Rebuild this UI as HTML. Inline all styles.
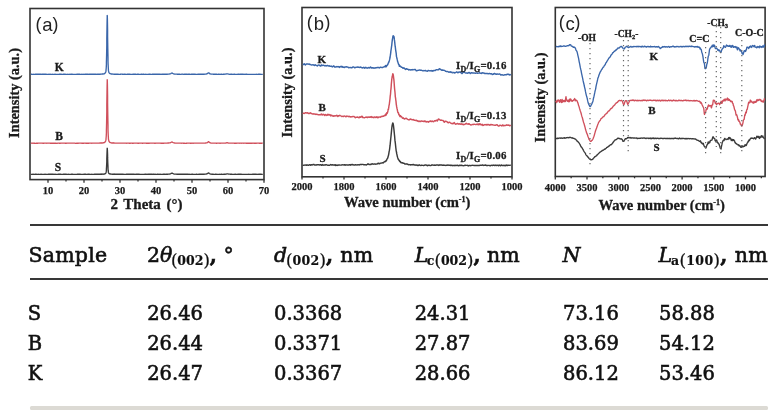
<!DOCTYPE html>
<html><head><meta charset="utf-8">
<style>
html,body{margin:0;padding:0;background:#fff;}
body{width:780px;height:416px;position:relative;overflow:hidden;}
svg{position:absolute;left:0;top:0;}
.tl text{font-family:"Liberation Serif",serif;font-weight:bold;font-size:10.5px;fill:#1a1a1a;stroke:#1a1a1a;stroke-width:0.25px;}
.lab{font-family:"Liberation Serif",serif;font-weight:bold;fill:#1a1a1a;stroke:#1a1a1a;stroke-width:0.3px;}
.pl{font-family:"Liberation Sans",sans-serif;fill:#222;}
.tb{position:absolute;font-family:"DejaVu Serif",serif;font-size:19.5px;color:#111;-webkit-text-stroke:0.6px #111;white-space:nowrap;line-height:1;}
.th{font-size:20.5px;}
b{font-weight:bold;}
.pp{font-size:16.5px;font-weight:normal;-webkit-text-stroke:0.3px #111;position:relative;top:1px;}
i+sub{margin-left:-1.5px;}
.rule{position:absolute;left:29.6px;width:738px;height:2px;background:#383838;}
sub{font-size:12.5px;font-weight:bold;vertical-align:-3px;font-style:normal;line-height:0;-webkit-text-stroke:0.2px #111;}
</style></head><body>
<svg width="780" height="216" viewBox="0 0 780 216">
<rect x="30" y="8.5" width="234" height="171.1" fill="none" stroke="#333" stroke-width="1.6"/>
<polyline points="30.8,74.26 31.3,74.24 31.8,74.27 32.3,74.31 32.8,74.32 33.3,74.30 33.8,74.28 34.3,74.30 34.8,74.32 35.3,74.29 35.8,74.28 36.3,74.29 36.8,74.28 37.3,74.27 37.8,74.21 38.3,74.21 38.8,74.18 39.3,74.22 39.8,74.22 40.3,74.27 40.8,74.28 41.3,74.30 41.8,74.24 42.3,74.22 42.8,74.23 43.3,74.29 43.8,74.26 44.3,74.25 44.8,74.23 45.3,74.25 45.8,74.28 46.3,74.29 46.8,74.30 47.3,74.30 47.8,74.30 48.3,74.30 48.8,74.28 49.3,74.30 49.8,74.27 50.3,74.27 50.8,74.30 51.3,74.30 51.8,74.31 52.3,74.28 52.8,74.31 53.3,74.33 53.8,74.35 54.3,74.33 54.8,74.29 55.3,74.28 55.8,74.31 56.3,74.32 56.8,74.31 57.3,74.33 57.8,74.34 58.3,74.33 58.8,74.32 59.3,74.28 59.8,74.29 60.3,74.26 60.8,74.26 61.3,74.25 61.8,74.30 62.3,74.34 62.8,74.31 63.3,74.27 63.8,74.26 64.3,74.25 64.8,74.25 65.3,74.24 65.8,74.31 66.3,74.34 66.8,74.33 67.3,74.30 67.8,74.27 68.3,74.32 68.8,74.32 69.3,74.31 69.8,74.29 70.3,74.29 70.8,74.30 71.3,74.26 71.8,74.26 72.3,74.26 72.8,74.31 73.3,74.33 73.8,74.34 74.3,74.32 74.8,74.30 75.3,74.33 75.8,74.31 76.3,74.33 76.8,74.28 77.3,74.28 77.8,74.23 78.3,74.21 78.8,74.20 79.3,74.22 79.8,74.27 80.3,74.33 80.8,74.33 81.3,74.31 81.8,74.26 82.3,74.29 82.8,74.30 83.3,74.29 83.8,74.30 84.3,74.31 84.8,74.29 85.3,74.27 85.8,74.26 86.3,74.26 86.8,74.27 87.3,74.25 87.8,74.29 88.3,74.29 88.8,74.31 89.3,74.27 89.8,74.27 90.3,74.22 90.8,74.20 91.3,74.21 91.8,74.21 92.3,74.25 92.8,74.20 93.3,74.27 93.8,74.22 94.3,74.28 94.8,74.26 95.3,74.24 95.8,74.25 96.3,74.28 96.8,74.31 97.3,74.27 97.8,74.22 98.3,74.19 98.8,74.22 99.3,74.20 99.8,74.21 100.2,74.15 100.3,74.15 100.3,74.12 100.4,74.16 100.4,74.17 100.5,74.22 100.6,74.19 100.7,74.17 100.8,74.14 100.8,74.12 100.8,74.14 100.9,74.13 101.0,74.14 101.1,74.10 101.2,74.09 101.2,74.13 101.3,74.14 101.3,74.13 101.4,74.10 101.5,74.14 101.6,74.13 101.6,74.11 101.7,74.06 101.8,74.04 101.8,74.07 101.9,74.08 102.0,74.11 102.0,74.07 102.1,74.08 102.2,74.05 102.3,74.06 102.3,74.02 102.4,74.00 102.4,74.03 102.5,74.03 102.6,74.06 102.7,74.02 102.8,74.01 102.8,73.99 102.8,74.00 102.9,73.99 103.0,73.99 103.1,73.96 103.2,73.98 103.2,73.99 103.3,73.99 103.3,73.94 103.4,73.88 103.5,73.87 103.6,73.89 103.6,73.90 103.7,73.87 103.8,73.85 103.8,73.87 103.9,73.86 104.0,73.80 104.0,73.80 104.1,73.72 104.2,73.72 104.3,73.66 104.3,73.70 104.4,73.70 104.4,73.68 104.5,73.60 104.6,73.47 104.7,73.40 104.8,73.35 104.8,73.36 104.8,73.33 104.9,73.26 105.0,73.14 105.1,73.04 105.2,73.00 105.2,72.94 105.3,72.86 105.3,72.81 105.4,72.65 105.5,72.51 105.6,72.34 105.6,72.15 105.7,71.94 105.8,71.67 105.8,71.72 105.9,71.33 106.0,70.85 106.0,70.19 106.1,69.37 106.2,68.27 106.3,66.77 106.3,66.36 106.4,64.83 106.4,62.34 106.5,59.08 106.6,55.14 106.7,50.39 106.8,45.03 106.8,42.05 106.8,39.01 106.9,32.77 107.0,26.64 107.1,21.19 107.2,17.16 107.2,15.37 107.3,15.72 107.3,16.12 107.4,19.28 107.5,24.22 107.6,30.16 107.6,36.44 107.7,42.63 107.8,48.34 107.8,48.33 107.9,53.26 108.0,57.54 108.0,61.08 108.1,63.92 108.2,66.08 108.3,67.76 108.3,68.13 108.4,69.05 108.4,69.99 108.5,70.64 108.6,71.16 108.7,71.54 108.8,71.90 108.8,71.99 108.8,72.12 108.9,72.30 109.0,72.47 109.1,72.66 109.2,72.83 109.2,72.96 109.3,73.02 109.3,73.02 109.4,73.06 109.5,73.13 109.6,73.19 109.6,73.32 109.7,73.35 109.8,73.40 109.8,73.39 109.9,73.50 110.0,73.56 110.0,73.61 110.1,73.65 110.2,73.67 110.3,73.69 110.3,73.62 110.4,73.69 110.4,73.75 110.5,73.84 110.6,73.85 110.7,73.85 110.8,73.86 110.8,73.85 110.8,73.85 110.9,73.86 111.0,73.92 111.1,73.96 111.2,73.97 111.2,73.94 111.3,73.92 111.3,73.96 111.4,74.00 111.5,74.03 111.6,73.99 111.6,73.97 111.7,73.98 111.8,74.01 111.8,74.03 111.9,74.04 112.0,74.02 112.0,74.04 112.1,74.02 112.2,74.02 112.3,74.01 112.3,74.07 112.4,74.06 112.4,74.10 112.5,74.12 112.6,74.14 112.7,74.12 112.8,74.09 112.8,74.10 112.8,74.10 112.9,74.11 113.0,74.16 113.1,74.18 113.2,74.17 113.2,74.10 113.3,74.12 113.3,74.10 113.4,74.10 113.5,74.12 113.6,74.14 113.6,74.19 113.7,74.20 113.8,74.23 113.8,74.22 113.9,74.23 114.0,74.22 114.0,74.20 114.1,74.13 114.2,74.13 114.3,74.19 114.3,74.24 114.4,74.22 114.4,74.17 114.5,74.14 114.6,74.17 114.8,74.19 115.3,74.22 115.8,74.23 116.3,74.23 116.8,74.23 117.3,74.24 117.8,74.25 118.3,74.27 118.8,74.31 119.3,74.33 119.8,74.32 120.3,74.24 120.8,74.24 121.3,74.19 121.8,74.20 122.3,74.21 122.8,74.28 123.3,74.31 123.8,74.25 124.3,74.23 124.8,74.22 125.3,74.27 125.8,74.33 126.3,74.36 126.8,74.32 127.3,74.24 127.8,74.24 128.3,74.25 128.8,74.25 129.3,74.26 129.8,74.24 130.3,74.29 130.8,74.31 131.3,74.36 131.8,74.33 132.3,74.32 132.8,74.29 133.3,74.29 133.8,74.27 134.3,74.24 134.8,74.22 135.3,74.25 135.8,74.27 136.3,74.31 136.8,74.32 137.3,74.28 137.8,74.26 138.3,74.24 138.8,74.29 139.3,74.30 139.8,74.32 140.3,74.31 140.8,74.29 141.3,74.25 141.8,74.26 142.3,74.30 142.8,74.28 143.3,74.29 143.8,74.29 144.3,74.37 144.8,74.33 145.3,74.31 145.8,74.25 146.3,74.32 146.8,74.32 147.3,74.38 147.8,74.31 148.3,74.32 148.8,74.24 149.3,74.25 149.8,74.27 150.3,74.28 150.8,74.31 151.3,74.30 151.8,74.30 152.3,74.26 152.8,74.24 153.3,74.27 153.8,74.27 154.3,74.26 154.8,74.25 155.3,74.24 155.8,74.23 156.3,74.23 156.8,74.28 157.3,74.27 157.8,74.27 158.3,74.24 158.8,74.25 159.3,74.27 159.8,74.27 160.3,74.33 160.8,74.29 161.3,74.31 161.8,74.26 162.3,74.26 162.8,74.27 163.3,74.26 163.8,74.29 164.3,74.27 164.8,74.25 165.3,74.23 165.8,74.22 166.3,74.26 166.8,74.23 167.3,74.21 167.8,74.13 168.3,74.14 168.8,74.07 169.3,74.01 169.8,73.90 170.3,73.80 170.8,73.57 171.3,73.25 171.8,73.02 172.3,73.17 172.8,73.50 173.3,73.75 173.8,73.92 174.3,74.03 174.8,74.09 175.3,74.16 175.8,74.16 176.3,74.17 176.8,74.13 177.3,74.21 177.8,74.24 178.3,74.29 178.8,74.26 179.3,74.27 179.8,74.27 180.3,74.32 180.8,74.30 181.3,74.26 181.8,74.19 182.3,74.19 182.8,74.24 183.3,74.29 183.8,74.30 184.3,74.25 184.8,74.22 185.3,74.28 185.8,74.24 186.3,74.27 186.8,74.21 187.3,74.30 187.8,74.26 188.3,74.28 188.8,74.22 189.3,74.22 189.8,74.26 190.3,74.32 190.8,74.33 191.3,74.28 191.8,74.22 192.3,74.22 192.8,74.24 193.3,74.28 193.8,74.28 194.3,74.26 194.8,74.26 195.3,74.26 195.8,74.32 196.3,74.36 196.8,74.36 197.3,74.31 197.8,74.26 198.3,74.25 198.8,74.25 199.3,74.25 199.8,74.24 200.3,74.27 200.8,74.26 201.3,74.29 201.8,74.27 202.3,74.25 202.8,74.22 203.3,74.21 203.8,74.20 204.3,74.22 204.8,74.20 205.3,74.16 205.8,74.12 206.3,74.02 206.8,73.93 207.3,73.72 207.8,73.32 208.3,72.80 208.8,72.80 209.3,73.37 209.8,73.75 210.3,73.94 210.8,74.04 211.3,74.11 211.8,74.14 212.3,74.19 212.8,74.19 213.3,74.22 213.8,74.23 214.3,74.26 214.8,74.25 215.3,74.27 215.8,74.23 216.3,74.26 216.8,74.25 217.3,74.30 217.8,74.30 218.3,74.28 218.8,74.27 219.3,74.27 219.8,74.30 220.3,74.31 220.8,74.26 221.3,74.26 221.8,74.28 222.3,74.33 222.8,74.32 223.3,74.25 223.8,74.24 224.3,74.22 224.8,74.18 225.3,74.13 225.8,74.04 226.3,73.98 226.8,73.81 227.3,73.80 227.8,73.91 228.3,74.07 228.8,74.17 229.3,74.27 229.8,74.30 230.3,74.27 230.8,74.22 231.3,74.21 231.8,74.24 232.3,74.28 232.8,74.30 233.3,74.32 233.8,74.29 234.3,74.29 234.8,74.29 235.3,74.32 235.8,74.35 236.3,74.34 236.8,74.32 237.3,74.30 237.8,74.27 238.3,74.24 238.8,74.25 239.3,74.27 239.8,74.31 240.3,74.26 240.8,74.25 241.3,74.23 241.8,74.25 242.3,74.21 242.8,74.22 243.3,74.26 243.8,74.32 244.3,74.31 244.8,74.29 245.3,74.30 245.8,74.25 246.3,74.25 246.8,74.24 247.3,74.32 247.8,74.37 248.3,74.38 248.8,74.37 249.3,74.34 249.8,74.33 250.3,74.31 250.8,74.30 251.3,74.31 251.8,74.36 252.3,74.36 252.8,74.34 253.3,74.30 253.8,74.33 254.3,74.33 254.8,74.36 255.3,74.31 255.8,74.31 256.3,74.27 256.8,74.31 257.3,74.34 257.8,74.31 258.3,74.27 258.8,74.25 259.3,74.27 259.8,74.26 260.3,74.27 260.8,74.30 261.3,74.35 261.8,74.31 262.3,74.32 262.8,74.31" fill="none" stroke="#3a66aa" stroke-width="1.35" stroke-linejoin="round"/>
<polyline points="30.8,143.20 31.3,143.20 31.8,143.18 32.3,143.17 32.8,143.21 33.3,143.20 33.8,143.20 34.3,143.20 34.8,143.27 35.3,143.33 35.8,143.30 36.3,143.25 36.8,143.24 37.3,143.24 37.8,143.21 38.3,143.18 38.8,143.19 39.3,143.19 39.8,143.15 40.3,143.11 40.8,143.14 41.3,143.16 41.8,143.19 42.3,143.18 42.8,143.21 43.3,143.21 43.8,143.22 44.3,143.18 44.8,143.18 45.3,143.15 45.8,143.19 46.3,143.20 46.8,143.21 47.3,143.17 47.8,143.17 48.3,143.20 48.8,143.17 49.3,143.15 49.8,143.13 50.3,143.22 50.8,143.27 51.3,143.28 51.8,143.23 52.3,143.26 52.8,143.26 53.3,143.23 53.8,143.21 54.3,143.23 54.8,143.25 55.3,143.21 55.8,143.25 56.3,143.27 56.8,143.30 57.3,143.27 57.8,143.18 58.3,143.18 58.8,143.16 59.3,143.22 59.8,143.22 60.3,143.22 60.8,143.17 61.3,143.16 61.8,143.15 62.3,143.18 62.8,143.16 63.3,143.17 63.8,143.12 64.3,143.16 64.8,143.18 65.3,143.26 65.8,143.27 66.3,143.27 66.8,143.20 67.3,143.13 67.8,143.10 68.3,143.13 68.8,143.16 69.3,143.14 69.8,143.16 70.3,143.12 70.8,143.17 71.3,143.16 71.8,143.19 72.3,143.18 72.8,143.17 73.3,143.17 73.8,143.13 74.3,143.14 74.8,143.20 75.3,143.28 75.8,143.31 76.3,143.29 76.8,143.22 77.3,143.23 77.8,143.21 78.3,143.22 78.8,143.18 79.3,143.19 79.8,143.18 80.3,143.18 80.8,143.15 81.3,143.15 81.8,143.21 82.3,143.23 82.8,143.24 83.3,143.19 83.8,143.21 84.3,143.19 84.8,143.17 85.3,143.18 85.8,143.21 86.3,143.22 86.8,143.23 87.3,143.21 87.8,143.21 88.3,143.16 88.8,143.21 89.3,143.16 89.8,143.15 90.3,143.10 90.8,143.16 91.3,143.19 91.8,143.24 92.3,143.18 92.8,143.18 93.3,143.14 93.8,143.16 94.3,143.15 94.8,143.13 95.3,143.10 95.8,143.07 96.3,143.06 96.8,143.08 97.3,143.10 97.8,143.13 98.3,143.17 98.8,143.15 99.3,143.10 99.8,143.03 100.2,143.00 100.3,143.00 100.3,143.03 100.4,143.04 100.4,143.01 100.5,143.02 100.6,143.03 100.7,143.08 100.8,143.06 100.8,143.08 100.8,143.07 100.9,143.09 101.0,143.08 101.1,143.08 101.2,143.06 101.2,143.01 101.3,143.00 101.3,142.98 101.4,143.01 101.5,142.98 101.6,143.02 101.6,143.01 101.7,143.01 101.8,142.93 101.8,142.92 101.9,142.94 102.0,142.95 102.0,142.95 102.1,142.93 102.2,142.96 102.3,142.93 102.3,142.94 102.4,142.95 102.4,143.01 102.5,142.98 102.6,142.94 102.7,142.85 102.8,142.88 102.8,142.86 102.8,142.86 102.9,142.83 103.0,142.82 103.1,142.80 103.2,142.77 103.2,142.73 103.3,142.71 103.3,142.71 103.4,142.74 103.5,142.76 103.6,142.71 103.6,142.67 103.7,142.67 103.8,142.71 103.8,142.71 103.9,142.65 104.0,142.63 104.0,142.59 104.1,142.55 104.2,142.49 104.3,142.50 104.3,142.52 104.4,142.54 104.4,142.45 104.5,142.42 104.6,142.34 104.7,142.29 104.8,142.27 104.8,142.27 104.8,142.23 104.9,142.10 105.0,142.01 105.1,141.97 105.2,141.87 105.2,141.71 105.3,141.59 105.3,141.57 105.4,141.48 105.5,141.37 105.6,141.20 105.6,141.01 105.7,140.71 105.8,140.42 105.8,140.45 105.9,140.10 106.0,139.59 106.0,138.88 106.1,138.00 106.2,136.77 106.3,135.15 106.3,134.64 106.4,133.04 106.4,130.28 106.5,126.80 106.6,122.53 106.7,117.48 106.8,111.67 106.8,108.51 106.8,105.24 106.9,98.53 107.0,91.90 107.1,86.01 107.2,81.69 107.2,79.74 107.3,80.13 107.3,80.56 107.4,84.06 107.5,89.47 107.6,95.97 107.6,102.69 107.7,109.23 107.8,115.26 107.8,115.26 107.9,120.65 108.0,125.19 108.0,128.99 108.1,131.98 108.2,134.41 108.3,136.19 108.3,136.56 108.4,137.51 108.4,138.53 108.5,139.30 108.6,139.86 108.7,140.26 108.8,140.54 108.8,140.70 108.8,140.85 108.9,141.12 109.0,141.29 109.1,141.46 109.2,141.58 109.2,141.69 109.3,141.74 109.3,141.81 109.4,141.89 109.5,142.01 109.6,142.05 109.6,142.13 109.7,142.19 109.8,142.27 109.8,142.26 109.9,142.28 110.0,142.35 110.0,142.46 110.1,142.50 110.2,142.52 110.3,142.55 110.3,142.55 110.4,142.57 110.4,142.59 110.5,142.62 110.6,142.63 110.7,142.65 110.8,142.69 110.8,142.70 110.8,142.70 110.9,142.74 111.0,142.78 111.1,142.83 111.2,142.85 111.2,142.87 111.3,142.92 111.3,142.87 111.4,142.89 111.5,142.84 111.6,142.92 111.6,142.95 111.7,142.93 111.8,142.87 111.8,142.85 111.9,142.92 112.0,142.97 112.0,142.96 112.1,142.96 112.2,142.97 112.3,142.98 112.3,142.99 112.4,142.93 112.4,142.95 112.5,142.91 112.6,142.99 112.7,142.98 112.8,142.99 112.8,142.98 112.8,142.97 112.9,142.97 113.0,142.93 113.1,142.96 113.2,143.00 113.2,143.06 113.3,143.06 113.3,143.08 113.4,143.06 113.5,143.06 113.6,143.05 113.6,143.08 113.7,143.08 113.8,143.06 113.8,143.04 113.9,143.05 114.0,143.04 114.0,143.07 114.1,143.06 114.2,143.10 114.3,143.06 114.3,143.07 114.4,143.07 114.4,143.09 114.5,143.13 114.6,143.13 114.8,143.19 115.3,143.18 115.8,143.16 116.3,143.12 116.8,143.12 117.3,143.14 117.8,143.16 118.3,143.14 118.8,143.10 119.3,143.10 119.8,143.06 120.3,143.11 120.8,143.10 121.3,143.14 121.8,143.13 122.3,143.16 122.8,143.14 123.3,143.11 123.8,143.08 124.3,143.06 124.8,143.08 125.3,143.15 125.8,143.17 126.3,143.21 126.8,143.14 127.3,143.17 127.8,143.15 128.3,143.18 128.8,143.19 129.3,143.24 129.8,143.25 130.3,143.24 130.8,143.17 131.3,143.18 131.8,143.17 132.3,143.22 132.8,143.20 133.3,143.25 133.8,143.18 134.3,143.18 134.8,143.16 135.3,143.20 135.8,143.18 136.3,143.16 136.8,143.13 137.3,143.16 137.8,143.22 138.3,143.28 138.8,143.25 139.3,143.17 139.8,143.14 140.3,143.19 140.8,143.19 141.3,143.18 141.8,143.18 142.3,143.22 142.8,143.22 143.3,143.18 143.8,143.12 144.3,143.11 144.8,143.09 145.3,143.14 145.8,143.14 146.3,143.21 146.8,143.23 147.3,143.27 147.8,143.24 148.3,143.21 148.8,143.21 149.3,143.22 149.8,143.18 150.3,143.15 150.8,143.13 151.3,143.19 151.8,143.13 152.3,143.14 152.8,143.10 153.3,143.15 153.8,143.18 154.3,143.20 154.8,143.20 155.3,143.22 155.8,143.16 156.3,143.17 156.8,143.12 157.3,143.17 157.8,143.18 158.3,143.17 158.8,143.15 159.3,143.17 159.8,143.20 160.3,143.19 160.8,143.22 161.3,143.27 161.8,143.25 162.3,143.20 162.8,143.21 163.3,143.26 163.8,143.25 164.3,143.18 164.8,143.15 165.3,143.13 165.8,143.12 166.3,143.14 166.8,143.12 167.3,143.11 167.8,143.04 168.3,143.02 168.8,142.97 169.3,142.93 169.8,142.87 170.3,142.74 170.8,142.53 171.3,142.21 171.8,142.02 172.3,142.15 172.8,142.43 173.3,142.69 173.8,142.83 174.3,142.97 174.8,143.02 175.3,143.07 175.8,143.06 176.3,143.06 176.8,143.10 177.3,143.11 177.8,143.16 178.3,143.14 178.8,143.11 179.3,143.08 179.8,143.05 180.3,143.11 180.8,143.15 181.3,143.21 181.8,143.19 182.3,143.15 182.8,143.17 183.3,143.21 183.8,143.23 184.3,143.22 184.8,143.27 185.3,143.30 185.8,143.28 186.3,143.23 186.8,143.21 187.3,143.20 187.8,143.16 188.3,143.15 188.8,143.14 189.3,143.17 189.8,143.17 190.3,143.24 190.8,143.23 191.3,143.22 191.8,143.16 192.3,143.19 192.8,143.22 193.3,143.21 193.8,143.18 194.3,143.12 194.8,143.11 195.3,143.14 195.8,143.18 196.3,143.18 196.8,143.16 197.3,143.15 197.8,143.19 198.3,143.18 198.8,143.17 199.3,143.12 199.8,143.10 200.3,143.15 200.8,143.14 201.3,143.15 201.8,143.12 202.3,143.15 202.8,143.14 203.3,143.12 203.8,143.12 204.3,143.13 204.8,143.07 205.3,143.04 205.8,142.98 206.3,142.95 206.8,142.85 207.3,142.68 207.8,142.33 208.3,141.78 208.8,141.77 209.3,142.30 209.8,142.73 210.3,142.95 210.8,143.03 211.3,143.07 211.8,143.10 212.3,143.09 212.8,143.12 213.3,143.10 213.8,143.13 214.3,143.10 214.8,143.09 215.3,143.11 215.8,143.17 216.3,143.22 216.8,143.22 217.3,143.19 217.8,143.15 218.3,143.16 218.8,143.16 219.3,143.20 219.8,143.23 220.3,143.23 220.8,143.18 221.3,143.12 221.8,143.08 222.3,143.09 222.8,143.13 223.3,143.17 223.8,143.15 224.3,143.12 224.8,143.13 225.3,143.12 225.8,143.03 226.3,142.90 226.8,142.78 227.3,142.73 227.8,142.86 228.3,143.01 228.8,143.12 229.3,143.18 229.8,143.20 230.3,143.15 230.8,143.13 231.3,143.13 231.8,143.17 232.3,143.20 232.8,143.18 233.3,143.17 233.8,143.19 234.3,143.21 234.8,143.24 235.3,143.23 235.8,143.24 236.3,143.25 236.8,143.17 237.3,143.13 237.8,143.11 238.3,143.14 238.8,143.16 239.3,143.20 239.8,143.22 240.3,143.18 240.8,143.20 241.3,143.21 241.8,143.20 242.3,143.16 242.8,143.18 243.3,143.20 243.8,143.21 244.3,143.19 244.8,143.18 245.3,143.17 245.8,143.20 246.3,143.20 246.8,143.21 247.3,143.19 247.8,143.27 248.3,143.24 248.8,143.28 249.3,143.21 249.8,143.23 250.3,143.21 250.8,143.23 251.3,143.26 251.8,143.26 252.3,143.22 252.8,143.18 253.3,143.18 253.8,143.21 254.3,143.26 254.8,143.25 255.3,143.27 255.8,143.27 256.3,143.26 256.8,143.20 257.3,143.14 257.8,143.10 258.3,143.17 258.8,143.18 259.3,143.24 259.8,143.22 260.3,143.28 260.8,143.28 261.3,143.26 261.8,143.21 262.3,143.19 262.8,143.20" fill="none" stroke="#d0505c" stroke-width="1.35" stroke-linejoin="round"/>
<polyline points="30.8,174.29 31.3,174.30 31.8,174.32 32.3,174.34 32.8,174.28 33.3,174.31 33.8,174.27 34.3,174.33 34.8,174.30 35.3,174.26 35.8,174.23 36.3,174.23 36.8,174.32 37.3,174.35 37.8,174.35 38.3,174.28 38.8,174.31 39.3,174.34 39.8,174.38 40.3,174.34 40.8,174.26 41.3,174.28 41.8,174.35 42.3,174.40 42.8,174.41 43.3,174.36 43.8,174.32 44.3,174.32 44.8,174.28 45.3,174.30 45.8,174.27 46.3,174.32 46.8,174.34 47.3,174.34 47.8,174.30 48.3,174.26 48.8,174.25 49.3,174.25 49.8,174.25 50.3,174.22 50.8,174.23 51.3,174.21 51.8,174.21 52.3,174.19 52.8,174.23 53.3,174.27 53.8,174.36 54.3,174.32 54.8,174.29 55.3,174.27 55.8,174.30 56.3,174.31 56.8,174.33 57.3,174.32 57.8,174.30 58.3,174.23 58.8,174.25 59.3,174.28 59.8,174.28 60.3,174.25 60.8,174.26 61.3,174.30 61.8,174.31 62.3,174.31 62.8,174.31 63.3,174.28 63.8,174.26 64.3,174.26 64.8,174.29 65.3,174.24 65.8,174.23 66.3,174.26 66.8,174.35 67.3,174.30 67.8,174.34 68.3,174.28 68.8,174.36 69.3,174.32 69.8,174.37 70.3,174.35 70.8,174.30 71.3,174.29 71.8,174.27 72.3,174.24 72.8,174.29 73.3,174.32 73.8,174.42 74.3,174.34 74.8,174.35 75.3,174.35 75.8,174.40 76.3,174.37 76.8,174.30 77.3,174.26 77.8,174.21 78.3,174.20 78.8,174.21 79.3,174.24 79.8,174.27 80.3,174.27 80.8,174.33 81.3,174.37 81.8,174.37 82.3,174.35 82.8,174.30 83.3,174.30 83.8,174.29 84.3,174.28 84.8,174.28 85.3,174.23 85.8,174.26 86.3,174.30 86.8,174.32 87.3,174.32 87.8,174.26 88.3,174.25 88.8,174.22 89.3,174.27 89.8,174.35 90.3,174.39 90.8,174.34 91.3,174.30 91.8,174.28 92.3,174.32 92.8,174.31 93.3,174.32 93.8,174.31 94.3,174.29 94.8,174.27 95.3,174.22 95.8,174.22 96.3,174.19 96.8,174.23 97.3,174.21 97.8,174.25 98.3,174.26 98.8,174.24 99.3,174.22 99.8,174.18 100.2,174.22 100.3,174.28 100.3,174.32 100.4,174.30 100.4,174.29 100.5,174.23 100.6,174.28 100.7,174.22 100.8,174.19 100.8,174.22 100.8,174.27 100.9,174.31 101.0,174.25 101.1,174.21 101.2,174.23 101.2,174.19 101.3,174.18 101.3,174.19 101.4,174.23 101.5,174.27 101.6,174.26 101.6,174.30 101.7,174.26 101.8,174.26 101.8,174.16 101.9,174.14 102.0,174.17 102.0,174.19 102.1,174.22 102.2,174.19 102.3,174.18 102.3,174.16 102.4,174.15 102.4,174.16 102.5,174.18 102.6,174.20 102.7,174.20 102.8,174.15 102.8,174.14 102.8,174.15 102.9,174.19 103.0,174.24 103.1,174.26 103.2,174.23 103.2,174.16 103.3,174.11 103.3,174.09 103.4,174.07 103.5,174.07 103.6,174.07 103.6,174.10 103.7,174.10 103.8,174.09 103.8,174.05 103.9,174.08 104.0,174.09 104.0,174.15 104.1,174.12 104.2,174.13 104.3,174.06 104.3,174.06 104.4,174.08 104.4,174.04 104.5,174.03 104.6,173.99 104.7,174.00 104.8,173.97 104.8,173.95 104.8,173.91 104.9,173.87 105.0,173.79 105.1,173.75 105.2,173.69 105.2,173.67 105.3,173.65 105.3,173.66 105.4,173.58 105.5,173.56 105.6,173.51 105.6,173.47 105.7,173.32 105.8,173.16 105.8,173.16 105.9,173.02 106.0,172.77 106.0,172.51 106.1,172.20 106.2,171.70 106.3,171.05 106.3,170.79 106.4,170.16 106.4,169.04 106.5,167.58 106.6,165.85 106.7,163.78 106.8,161.43 106.8,160.13 106.8,158.76 106.9,155.99 107.0,153.33 107.1,150.89 107.2,149.16 107.2,148.29 107.3,148.48 107.3,148.65 107.4,150.04 107.5,152.21 107.6,154.82 107.6,157.64 107.7,160.37 107.8,162.85 107.8,162.84 107.9,165.03 108.0,166.94 108.0,168.54 108.1,169.76 108.2,170.70 108.3,171.40 108.3,171.58 108.4,172.02 108.4,172.44 108.5,172.71 108.6,172.92 108.7,173.08 108.8,173.26 108.8,173.32 108.8,173.36 108.9,173.39 109.0,173.49 109.1,173.60 109.2,173.66 109.2,173.68 109.3,173.70 109.3,173.67 109.4,173.70 109.5,173.75 109.6,173.81 109.6,173.88 109.7,173.92 109.8,173.97 109.8,173.96 109.9,174.01 110.0,174.03 110.0,174.04 110.1,174.02 110.2,174.03 110.3,174.03 110.3,174.02 110.4,174.02 110.4,174.00 110.5,174.01 110.6,174.02 110.7,174.06 110.8,174.04 110.8,174.04 110.8,174.05 110.9,174.10 111.0,174.09 111.1,174.12 111.2,174.09 111.2,174.12 111.3,174.14 111.3,174.16 111.4,174.15 111.5,174.15 111.6,174.17 111.6,174.18 111.7,174.16 111.8,174.20 111.8,174.15 111.9,174.13 112.0,174.09 112.0,174.12 112.1,174.12 112.2,174.13 112.3,174.17 112.3,174.17 112.4,174.19 112.4,174.20 112.5,174.20 112.6,174.21 112.7,174.24 112.8,174.27 112.8,174.25 112.8,174.21 112.9,174.18 113.0,174.21 113.1,174.23 113.2,174.23 113.2,174.22 113.3,174.23 113.3,174.24 113.4,174.25 113.5,174.20 113.6,174.20 113.6,174.18 113.7,174.26 113.8,174.27 113.8,174.27 113.9,174.21 114.0,174.21 114.0,174.24 114.1,174.26 114.2,174.31 114.3,174.30 114.3,174.33 114.4,174.29 114.4,174.30 114.5,174.24 114.6,174.23 114.8,174.22 115.3,174.25 115.8,174.21 116.3,174.23 116.8,174.23 117.3,174.28 117.8,174.25 118.3,174.26 118.8,174.28 119.3,174.26 119.8,174.24 120.3,174.24 120.8,174.27 121.3,174.29 121.8,174.27 122.3,174.25 122.8,174.25 123.3,174.30 123.8,174.29 124.3,174.33 124.8,174.32 125.3,174.34 125.8,174.32 126.3,174.27 126.8,174.24 127.3,174.19 127.8,174.21 128.3,174.25 128.8,174.26 129.3,174.28 129.8,174.23 130.3,174.26 130.8,174.22 131.3,174.26 131.8,174.24 132.3,174.24 132.8,174.23 133.3,174.21 133.8,174.24 134.3,174.28 134.8,174.32 135.3,174.30 135.8,174.27 136.3,174.23 136.8,174.27 137.3,174.24 137.8,174.29 138.3,174.27 138.8,174.29 139.3,174.27 139.8,174.31 140.3,174.34 140.8,174.35 141.3,174.33 141.8,174.35 142.3,174.36 142.8,174.35 143.3,174.36 143.8,174.33 144.3,174.33 144.8,174.28 145.3,174.27 145.8,174.28 146.3,174.28 146.8,174.30 147.3,174.29 147.8,174.32 148.3,174.26 148.8,174.25 149.3,174.26 149.8,174.29 150.3,174.29 150.8,174.22 151.3,174.26 151.8,174.24 152.3,174.31 152.8,174.25 153.3,174.29 153.8,174.26 154.3,174.32 154.8,174.28 155.3,174.27 155.8,174.31 156.3,174.31 156.8,174.31 157.3,174.25 157.8,174.24 158.3,174.29 158.8,174.33 159.3,174.34 159.8,174.27 160.3,174.25 160.8,174.30 161.3,174.35 161.8,174.35 162.3,174.30 162.8,174.28 163.3,174.22 163.8,174.20 164.3,174.22 164.8,174.24 165.3,174.32 165.8,174.29 166.3,174.28 166.8,174.23 167.3,174.26 167.8,174.26 168.3,174.19 168.8,174.11 169.3,174.07 169.8,174.00 170.3,173.82 170.8,173.58 171.3,173.29 171.8,173.10 172.3,173.21 172.8,173.49 173.3,173.77 173.8,173.94 174.3,174.09 174.8,174.16 175.3,174.16 175.8,174.18 176.3,174.20 176.8,174.27 177.3,174.29 177.8,174.27 178.3,174.24 178.8,174.25 179.3,174.24 179.8,174.21 180.3,174.22 180.8,174.23 181.3,174.28 181.8,174.22 182.3,174.21 182.8,174.19 183.3,174.22 183.8,174.26 184.3,174.23 184.8,174.26 185.3,174.22 185.8,174.25 186.3,174.25 186.8,174.28 187.3,174.27 187.8,174.29 188.3,174.28 188.8,174.32 189.3,174.28 189.8,174.33 190.3,174.32 190.8,174.34 191.3,174.29 191.8,174.32 192.3,174.28 192.8,174.29 193.3,174.31 193.8,174.33 194.3,174.34 194.8,174.35 195.3,174.35 195.8,174.33 196.3,174.29 196.8,174.26 197.3,174.30 197.8,174.31 198.3,174.33 198.8,174.28 199.3,174.26 199.8,174.27 200.3,174.26 200.8,174.27 201.3,174.22 201.8,174.23 202.3,174.20 202.8,174.23 203.3,174.24 203.8,174.22 204.3,174.22 204.8,174.19 205.3,174.18 205.8,174.10 206.3,174.01 206.8,173.92 207.3,173.73 207.8,173.37 208.3,172.86 208.8,172.89 209.3,173.45 209.8,173.81 210.3,173.97 210.8,174.07 211.3,174.15 211.8,174.24 212.3,174.24 212.8,174.28 213.3,174.29 213.8,174.32 214.3,174.31 214.8,174.30 215.3,174.29 215.8,174.29 216.3,174.31 216.8,174.29 217.3,174.33 217.8,174.30 218.3,174.34 218.8,174.30 219.3,174.29 219.8,174.32 220.3,174.31 220.8,174.29 221.3,174.22 221.8,174.22 222.3,174.30 222.8,174.31 223.3,174.34 223.8,174.25 224.3,174.24 224.8,174.22 225.3,174.25 225.8,174.17 226.3,174.07 226.8,173.90 227.3,173.81 227.8,173.89 228.3,174.01 228.8,174.07 229.3,174.14 229.8,174.19 230.3,174.26 230.8,174.23 231.3,174.26 231.8,174.28 232.3,174.34 232.8,174.34 233.3,174.33 233.8,174.32 234.3,174.29 234.8,174.30 235.3,174.28 235.8,174.29 236.3,174.31 236.8,174.32 237.3,174.32 237.8,174.29 238.3,174.29 238.8,174.27 239.3,174.27 239.8,174.26 240.3,174.27 240.8,174.28 241.3,174.27 241.8,174.33 242.3,174.36 242.8,174.38 243.3,174.34 243.8,174.36 244.3,174.35 244.8,174.35 245.3,174.31 245.8,174.31 246.3,174.34 246.8,174.34 247.3,174.38 247.8,174.33 248.3,174.34 248.8,174.27 249.3,174.33 249.8,174.31 250.3,174.33 250.8,174.31 251.3,174.35 251.8,174.32 252.3,174.29 252.8,174.23 253.3,174.26 253.8,174.27 254.3,174.29 254.8,174.27 255.3,174.27 255.8,174.26 256.3,174.28 256.8,174.33 257.3,174.30 257.8,174.29 258.3,174.24 258.8,174.30 259.3,174.28 259.8,174.28 260.3,174.25 260.8,174.29 261.3,174.29 261.8,174.31 262.3,174.31 262.8,174.30" fill="none" stroke="#3a3a3a" stroke-width="1.35" stroke-linejoin="round"/>
<line x1="48.00" y1="179.6" x2="48.00" y2="182.79999999999998" stroke="#333" stroke-width="1.3"/><line x1="84.00" y1="179.6" x2="84.00" y2="182.79999999999998" stroke="#333" stroke-width="1.3"/><line x1="120.00" y1="179.6" x2="120.00" y2="182.79999999999998" stroke="#333" stroke-width="1.3"/><line x1="156.00" y1="179.6" x2="156.00" y2="182.79999999999998" stroke="#333" stroke-width="1.3"/><line x1="192.00" y1="179.6" x2="192.00" y2="182.79999999999998" stroke="#333" stroke-width="1.3"/><line x1="228.00" y1="179.6" x2="228.00" y2="182.79999999999998" stroke="#333" stroke-width="1.3"/><line x1="264.00" y1="179.6" x2="264.00" y2="182.79999999999998" stroke="#333" stroke-width="1.3"/>
<line x1="66.00" y1="179.6" x2="66.00" y2="181.4" stroke="#333" stroke-width="1.3"/><line x1="102.00" y1="179.6" x2="102.00" y2="181.4" stroke="#333" stroke-width="1.3"/><line x1="138.00" y1="179.6" x2="138.00" y2="181.4" stroke="#333" stroke-width="1.3"/><line x1="174.00" y1="179.6" x2="174.00" y2="181.4" stroke="#333" stroke-width="1.3"/><line x1="210.00" y1="179.6" x2="210.00" y2="181.4" stroke="#333" stroke-width="1.3"/><line x1="246.00" y1="179.6" x2="246.00" y2="181.4" stroke="#333" stroke-width="1.3"/>
<g class="tl"><text x="48.00" y="193.6" text-anchor="middle">10</text><text x="84.00" y="193.6" text-anchor="middle">20</text><text x="120.00" y="193.6" text-anchor="middle">30</text><text x="156.00" y="193.6" text-anchor="middle">40</text><text x="192.00" y="193.6" text-anchor="middle">50</text><text x="228.00" y="193.6" text-anchor="middle">60</text><text x="264.00" y="193.6" text-anchor="middle">70</text></g>
<rect x="302" y="7.5" width="210" height="169.3" fill="none" stroke="#333" stroke-width="1.6"/>
<polyline points="302.8,64.23 303.3,64.58 303.8,64.15 304.3,63.74 304.8,64.37 305.3,64.91 305.8,64.43 306.3,63.89 306.8,63.95 307.3,64.14 307.8,63.97 308.3,64.13 308.8,64.23 309.3,63.99 309.8,64.53 310.3,64.68 310.8,64.50 311.3,64.84 311.8,65.07 312.3,64.90 312.8,64.76 313.3,64.69 313.8,65.11 314.3,65.49 314.8,64.88 315.3,64.78 315.8,65.22 316.3,65.37 316.8,65.66 317.3,65.90 317.8,65.41 318.3,65.12 318.8,64.99 319.3,65.10 319.8,65.47 320.3,66.06 320.8,66.08 321.3,65.04 321.8,64.91 322.3,65.45 322.8,65.35 323.3,65.17 323.8,65.41 324.3,65.72 324.8,65.81 325.3,65.57 325.8,65.82 326.3,65.94 326.8,65.69 327.3,65.54 327.8,65.51 328.3,66.01 328.8,65.86 329.3,65.74 329.8,66.30 330.3,66.27 330.8,66.20 331.3,66.08 331.8,66.35 332.3,66.89 332.8,66.69 333.3,66.09 333.8,65.84 334.3,66.49 334.8,67.15 335.3,67.03 335.8,66.97 336.3,66.80 336.8,66.52 337.3,66.69 337.8,66.87 338.3,66.57 338.8,66.72 339.3,67.40 339.8,66.97 340.3,66.39 340.8,66.74 341.3,66.92 341.8,66.32 342.3,66.66 342.8,67.25 343.3,66.97 343.8,67.43 344.3,67.58 344.8,66.95 345.3,66.96 345.8,66.91 346.3,66.73 346.8,67.06 347.3,67.13 347.8,66.95 348.3,67.47 348.8,67.78 349.3,67.60 349.8,67.54 350.3,67.48 350.8,67.70 351.3,67.60 351.8,67.71 352.3,67.51 352.8,67.05 353.3,66.97 353.8,66.96 354.3,67.40 354.8,67.82 355.3,67.57 355.8,67.25 356.3,67.34 356.8,67.18 357.3,67.01 357.8,67.20 358.3,67.09 358.8,67.12 359.3,67.52 359.8,67.36 360.3,67.14 360.8,66.99 361.3,67.65 361.8,67.67 362.3,67.61 362.8,68.06 363.3,67.64 363.8,67.25 364.3,67.58 364.8,68.24 365.3,67.80 365.8,67.36 366.3,67.81 366.8,67.96 367.3,68.18 367.8,67.99 368.3,67.67 368.8,67.52 369.3,67.87 369.8,68.00 370.3,67.03 370.8,67.17 371.3,67.64 371.8,68.10 372.3,68.06 372.8,67.62 373.3,67.83 373.8,68.19 374.3,68.03 374.8,67.91 375.3,68.03 375.8,67.72 376.3,67.61 376.8,67.66 377.3,67.42 377.8,67.67 378.3,67.54 378.8,67.50 379.3,67.99 379.8,67.67 380.3,67.24 380.8,67.17 381.3,67.40 381.8,67.57 382.3,67.46 382.8,67.43 383.3,67.14 383.8,66.86 384.3,66.49 384.8,66.44 385.0,66.75 385.2,66.41 385.3,66.59 385.4,66.79 385.6,65.80 385.8,65.55 385.8,65.85 386.0,65.97 386.2,66.73 386.3,66.30 386.4,65.69 386.6,65.59 386.8,65.48 386.8,65.68 387.0,65.70 387.2,65.11 387.3,65.06 387.4,64.95 387.6,64.38 387.8,64.55 387.8,64.65 388.0,63.83 388.2,63.13 388.3,63.03 388.4,62.95 388.6,62.83 388.8,62.01 388.8,61.86 389.0,61.68 389.2,61.02 389.3,60.62 389.4,60.45 389.6,59.63 389.8,58.56 389.8,58.58 390.0,57.79 390.2,56.14 390.3,55.44 390.4,55.20 390.6,53.57 390.8,52.04 390.8,51.68 391.0,50.36 391.2,49.10 391.3,48.50 391.4,47.53 391.6,46.10 391.8,44.84 391.8,44.47 392.0,42.61 392.2,40.91 392.3,40.07 392.4,39.40 392.6,38.35 392.8,37.33 392.8,37.01 393.0,36.17 393.2,35.78 393.3,35.74 393.4,36.33 393.6,36.62 393.8,36.66 393.8,36.16 394.0,36.76 394.2,37.86 394.3,38.99 394.4,39.88 394.6,41.23 394.8,42.86 394.8,42.87 395.0,44.98 395.2,46.48 395.3,46.92 395.4,47.72 395.6,49.61 395.8,51.11 395.8,50.66 396.0,52.05 396.2,53.38 396.3,54.47 396.4,56.00 396.6,56.88 396.8,57.64 396.8,57.92 397.0,58.48 397.2,59.30 397.3,59.94 397.4,60.26 397.6,61.52 397.8,61.95 397.8,61.60 398.0,62.73 398.2,63.08 398.3,63.30 398.4,63.88 398.6,64.33 398.8,64.63 398.8,64.76 399.0,64.57 399.2,65.07 399.3,66.20 399.4,66.23 399.6,66.21 399.8,65.91 399.8,65.65 400.0,66.00 400.2,66.10 400.3,66.59 400.4,66.63 400.6,66.54 400.8,66.45 400.8,66.44 401.3,67.22 401.8,67.38 402.3,67.43 402.8,68.22 403.3,68.29 403.8,67.79 404.3,68.03 404.8,68.66 405.3,69.44 405.8,69.35 406.3,68.82 406.8,68.74 407.3,69.23 407.8,69.20 408.3,69.36 408.8,69.96 409.3,69.71 409.8,69.60 410.3,69.82 410.8,70.08 411.3,69.73 411.8,69.70 412.3,69.91 412.8,69.52 413.3,69.68 413.8,69.85 414.3,69.65 414.8,69.38 415.3,69.44 415.8,70.16 416.3,70.86 416.8,70.72 417.3,70.59 417.8,70.36 418.3,70.12 418.8,70.34 419.3,70.15 419.8,69.90 420.3,70.20 420.8,70.39 421.3,70.16 421.8,70.36 422.3,70.57 422.8,70.75 423.3,70.84 423.8,70.57 424.3,70.64 424.8,70.70 425.3,70.55 425.8,70.53 426.3,70.87 426.8,71.13 427.3,71.28 427.8,70.77 428.3,70.40 428.8,70.70 429.3,70.83 429.8,70.82 430.3,70.66 430.8,70.91 431.3,71.04 431.8,70.56 432.3,70.77 432.8,71.19 433.3,70.69 433.8,70.57 434.3,70.44 434.8,70.41 435.3,70.42 435.8,69.88 436.3,69.75 436.8,69.66 437.3,69.70 437.8,69.84 438.3,69.74 438.8,69.54 439.3,68.69 439.8,68.85 440.3,69.28 440.8,69.37 441.3,70.13 441.8,70.24 442.3,70.02 442.8,70.05 443.3,70.26 443.8,70.33 444.3,70.39 444.8,70.47 445.3,71.04 445.8,71.40 446.3,71.50 446.8,71.58 447.3,71.52 447.8,71.65 448.3,71.85 448.8,72.18 449.3,72.21 449.8,71.96 450.3,71.79 450.8,72.36 451.3,72.52 451.8,72.12 452.3,72.54 452.8,72.88 453.3,72.69 453.8,72.38 454.3,72.81 454.8,73.01 455.3,72.62 455.8,72.51 456.3,72.09 456.8,71.84 457.3,72.27 457.8,72.68 458.3,72.55 458.8,72.21 459.3,71.95 459.8,72.16 460.3,72.17 460.8,72.46 461.3,73.07 461.8,73.52 462.3,73.47 462.8,72.72 463.3,72.34 463.8,71.71 464.3,71.79 464.8,72.54 465.3,72.91 465.8,73.10 466.3,73.03 466.8,72.96 467.3,72.99 467.8,73.28 468.3,72.91 468.8,72.49 469.3,72.44 469.8,72.92 470.3,73.54 470.8,73.36 471.3,72.81 471.8,72.70 472.3,72.93 472.8,72.92 473.3,72.95 473.8,73.06 474.3,73.03 474.8,73.12 475.3,73.28 475.8,73.04 476.3,72.98 476.8,72.96 477.3,73.18 477.8,73.23 478.3,73.13 478.8,73.12 479.3,72.74 479.8,73.04 480.3,73.16 480.8,73.14 481.3,73.50 481.8,73.01 482.3,72.73 482.8,73.01 483.3,73.07 483.8,72.95 484.3,73.33 484.8,73.57 485.3,73.52 485.8,73.51 486.3,73.52 486.8,73.48 487.3,73.43 487.8,73.76 488.3,73.81 488.8,73.60 489.3,73.38 489.8,73.55 490.3,73.90 490.8,73.83 491.3,73.61 491.8,73.82 492.3,74.58 492.8,74.42 493.3,73.96 493.8,74.15 494.3,73.52 494.8,73.49 495.3,73.94 495.8,74.26 496.3,74.39 496.8,73.93 497.3,73.97 497.8,74.21 498.3,74.16 498.8,74.14 499.3,73.99 499.8,73.98 500.3,74.49 500.8,75.01 501.3,75.03 501.8,74.67 502.3,74.81 502.8,75.01 503.3,75.14 503.8,75.19 504.3,74.82 504.8,74.66 505.3,74.75 505.8,74.79 506.3,74.83 506.8,74.61 507.3,74.12 507.8,74.18 508.3,74.22 508.8,74.42 509.3,74.91 509.8,74.54 510.3,74.73 510.8,75.33" fill="none" stroke="#3a66aa" stroke-width="1.45" stroke-linejoin="round"/>
<polyline points="302.8,112.90 303.3,113.39 303.8,113.27 304.3,113.44 304.8,113.17 305.3,112.80 305.8,112.81 306.3,112.81 306.8,113.05 307.3,112.90 307.8,112.69 308.3,113.29 308.8,113.60 309.3,113.59 309.8,113.13 310.3,112.85 310.8,113.26 311.3,113.53 311.8,113.57 312.3,113.86 312.8,114.05 313.3,113.84 313.8,113.90 314.3,114.13 314.8,114.04 315.3,114.20 315.8,114.50 316.3,114.27 316.8,114.20 317.3,114.35 317.8,114.66 318.3,114.82 318.8,114.68 319.3,114.71 319.8,114.68 320.3,114.83 320.8,114.83 321.3,113.96 321.8,114.37 322.3,115.02 322.8,114.37 323.3,114.33 323.8,114.45 324.3,115.13 324.8,115.55 325.3,114.58 325.8,114.64 326.3,115.00 326.8,115.42 327.3,115.29 327.8,114.18 328.3,114.53 328.8,115.10 329.3,115.01 329.8,114.56 330.3,114.83 330.8,115.92 331.3,115.32 331.8,115.23 332.3,115.64 332.8,116.01 333.3,116.32 333.8,115.67 334.3,115.90 334.8,116.13 335.3,115.71 335.8,115.80 336.3,115.87 336.8,115.22 337.3,115.96 337.8,116.40 338.3,115.72 338.8,115.95 339.3,115.73 339.8,115.31 340.3,115.63 340.8,115.88 341.3,116.06 341.8,116.54 342.3,116.41 342.8,116.26 343.3,116.58 343.8,116.17 344.3,116.09 344.8,116.15 345.3,116.40 345.8,116.81 346.3,116.55 346.8,116.08 347.3,116.13 347.8,116.31 348.3,116.49 348.8,116.69 349.3,116.30 349.8,116.61 350.3,117.05 350.8,116.66 351.3,116.80 351.8,116.90 352.3,116.52 352.8,116.66 353.3,116.56 353.8,116.42 354.3,116.61 354.8,117.17 355.3,117.65 355.8,117.18 356.3,117.23 356.8,117.31 357.3,116.99 357.8,117.26 358.3,117.26 358.8,117.70 359.3,117.71 359.8,116.73 360.3,117.04 360.8,117.28 361.3,116.85 361.8,116.16 362.3,116.54 362.8,117.61 363.3,117.57 363.8,117.63 364.3,117.89 364.8,117.62 365.3,117.43 365.8,117.25 366.3,116.91 366.8,117.42 367.3,117.64 367.8,116.99 368.3,117.00 368.8,117.32 369.3,117.01 369.8,117.19 370.3,117.31 370.8,116.76 371.3,116.57 371.8,117.50 372.3,117.39 372.8,116.96 373.3,117.54 373.8,117.65 374.3,117.14 374.8,116.87 375.3,117.24 375.8,117.53 376.3,117.29 376.8,116.73 377.3,117.16 377.8,117.75 378.3,117.54 378.8,117.02 379.3,116.98 379.8,117.12 380.3,117.18 380.8,116.73 381.3,116.45 381.8,116.66 382.3,116.20 382.8,116.17 383.3,116.32 383.8,115.95 384.3,115.82 384.8,115.25 385.0,114.99 385.2,115.36 385.3,115.37 385.4,115.47 385.6,114.89 385.8,113.98 385.8,114.38 386.0,114.71 386.2,114.99 386.3,114.90 386.4,113.94 386.6,113.70 386.8,113.38 386.8,112.75 387.0,113.33 387.2,113.42 387.3,112.67 387.4,112.50 387.6,112.28 387.8,111.62 387.8,111.45 388.0,110.44 388.2,108.98 388.3,109.26 388.4,109.62 388.6,108.45 388.8,107.09 388.8,106.99 389.0,105.62 389.2,104.75 389.3,104.46 389.4,103.48 389.6,101.91 389.8,100.45 389.8,100.49 390.0,98.67 390.2,96.35 390.3,95.31 390.4,95.23 390.6,92.88 390.8,90.08 390.8,90.47 391.0,88.56 391.2,86.24 391.3,84.42 391.4,83.29 391.6,81.27 391.8,78.91 391.8,79.38 392.0,77.75 392.2,76.34 392.3,76.68 392.4,76.16 392.6,74.80 392.8,74.11 392.8,73.74 393.0,73.95 393.2,74.70 393.3,75.22 393.4,75.81 393.6,77.56 393.8,79.28 393.8,78.94 394.0,80.87 394.2,83.55 394.3,85.06 394.4,86.35 394.6,88.89 394.8,90.76 394.8,90.65 395.0,92.54 395.2,95.08 395.3,96.82 395.4,97.12 395.6,98.36 395.8,100.29 395.8,100.10 396.0,101.42 396.2,103.66 396.3,104.60 396.4,104.94 396.6,106.46 396.8,107.46 396.8,107.28 397.0,108.48 397.2,109.11 397.3,109.82 397.4,110.19 397.6,111.35 397.8,112.15 397.8,112.18 398.0,112.65 398.2,112.82 398.3,113.05 398.4,112.75 398.6,113.57 398.8,114.52 398.8,114.13 399.0,114.63 399.2,115.08 399.3,114.94 399.4,115.41 399.6,115.80 399.8,115.45 399.8,115.73 400.0,116.60 400.2,116.24 400.3,115.90 400.4,115.65 400.6,115.73 400.8,116.51 400.8,116.79 401.3,116.69 401.8,116.95 402.3,117.96 402.8,118.25 403.3,117.88 403.8,118.53 404.3,118.99 404.8,118.79 405.3,118.64 405.8,118.33 406.3,118.30 406.8,118.71 407.3,119.07 407.8,119.40 408.3,119.71 408.8,119.76 409.3,119.76 409.8,119.50 410.3,118.92 410.8,119.13 411.3,119.53 411.8,119.56 412.3,119.82 412.8,119.72 413.3,119.55 413.8,119.93 414.3,120.32 414.8,120.23 415.3,120.39 415.8,120.56 416.3,120.20 416.8,120.33 417.3,121.18 417.8,121.03 418.3,120.88 418.8,121.50 419.3,121.64 419.8,121.08 420.3,121.27 420.8,121.57 421.3,120.99 421.8,120.94 422.3,121.22 422.8,121.34 423.3,121.17 423.8,121.55 424.3,121.44 424.8,120.84 425.3,121.29 425.8,121.81 426.3,121.92 426.8,121.47 427.3,121.49 427.8,121.94 428.3,122.15 428.8,121.69 429.3,121.27 429.8,121.53 430.3,121.02 430.8,120.88 431.3,121.59 431.8,121.61 432.3,121.04 432.8,121.34 433.3,121.72 433.8,121.65 434.3,121.06 434.8,120.65 435.3,121.03 435.8,120.74 436.3,120.13 436.8,120.42 437.3,120.96 437.8,120.32 438.3,119.11 438.8,118.99 439.3,119.40 439.8,119.78 440.3,120.26 440.8,120.33 441.3,120.07 441.8,120.27 442.3,120.35 442.8,120.46 443.3,120.72 443.8,121.66 444.3,122.26 444.8,121.49 445.3,121.19 445.8,121.49 446.3,121.49 446.8,121.58 447.3,121.99 447.8,122.58 448.3,122.80 448.8,122.46 449.3,122.31 449.8,122.30 450.3,122.74 450.8,123.08 451.3,123.48 451.8,123.43 452.3,123.46 452.8,123.76 453.3,123.51 453.8,122.93 454.3,122.62 454.8,123.42 455.3,124.20 455.8,124.09 456.3,123.95 456.8,123.82 457.3,123.54 457.8,123.51 458.3,123.92 458.8,124.23 459.3,123.93 459.8,123.78 460.3,124.03 460.8,124.22 461.3,123.86 461.8,124.25 462.3,124.57 462.8,124.12 463.3,124.47 463.8,124.76 464.3,124.35 464.8,124.23 465.3,123.98 465.8,123.67 466.3,123.36 466.8,123.89 467.3,124.00 467.8,123.87 468.3,124.18 468.8,123.74 469.3,123.93 469.8,124.29 470.3,124.53 470.8,124.96 471.3,124.91 471.8,124.68 472.3,124.43 472.8,124.40 473.3,124.62 473.8,124.32 474.3,124.26 474.8,124.39 475.3,124.48 475.8,124.63 476.3,124.45 476.8,124.15 477.3,124.51 477.8,124.27 478.3,123.91 478.8,124.82 479.3,124.26 479.8,123.66 480.3,124.61 480.8,124.36 481.3,124.90 481.8,124.66 482.3,124.36 482.8,125.51 483.3,125.39 483.8,124.91 484.3,124.77 484.8,124.60 485.3,124.74 485.8,124.70 486.3,124.42 486.8,125.02 487.3,124.80 487.8,124.44 488.3,124.81 488.8,124.56 489.3,124.85 489.8,125.33 490.3,124.61 490.8,124.51 491.3,124.73 491.8,124.58 492.3,124.83 492.8,124.83 493.3,125.09 493.8,125.11 494.3,125.13 494.8,125.33 495.3,125.31 495.8,125.19 496.3,124.83 496.8,124.68 497.3,124.99 497.8,125.58 498.3,126.02 498.8,126.14 499.3,125.64 499.8,125.24 500.3,125.29 500.8,125.36 501.3,125.67 501.8,125.96 502.3,125.34 502.8,124.91 503.3,125.53 503.8,125.82 504.3,125.39 504.8,125.65 505.3,125.62 505.8,125.24 506.3,125.23 506.8,124.79 507.3,125.17 507.8,125.39 508.3,125.01 508.8,125.15 509.3,125.53 509.8,125.73 510.3,125.55 510.8,125.12" fill="none" stroke="#d0505c" stroke-width="1.45" stroke-linejoin="round"/>
<polyline points="302.8,165.03 303.3,165.28 303.8,165.37 304.3,165.15 304.8,165.09 305.3,164.98 305.8,165.10 306.3,165.30 306.8,164.96 307.3,164.95 307.8,165.22 308.3,165.21 308.8,165.20 309.3,164.87 309.8,164.63 310.3,165.09 310.8,165.31 311.3,164.82 311.8,164.84 312.3,164.99 312.8,164.67 313.3,164.38 313.8,164.42 314.3,164.80 314.8,165.03 315.3,164.96 315.8,165.01 316.3,165.14 316.8,164.78 317.3,164.65 317.8,164.84 318.3,164.70 318.8,164.74 319.3,164.91 319.8,164.95 320.3,164.75 320.8,164.72 321.3,165.24 321.8,165.16 322.3,164.60 322.8,164.80 323.3,165.15 323.8,165.18 324.3,164.92 324.8,165.00 325.3,165.05 325.8,164.73 326.3,164.76 326.8,164.91 327.3,165.11 327.8,165.22 328.3,165.11 328.8,165.16 329.3,165.18 329.8,165.17 330.3,164.95 330.8,164.58 331.3,164.91 331.8,164.93 332.3,164.77 332.8,164.97 333.3,164.94 333.8,164.89 334.3,165.17 334.8,164.86 335.3,164.78 335.8,165.51 336.3,165.38 336.8,165.03 337.3,165.14 337.8,165.41 338.3,165.13 338.8,164.86 339.3,165.01 339.8,165.09 340.3,165.13 340.8,165.14 341.3,165.04 341.8,164.94 342.3,164.90 342.8,164.78 343.3,164.85 343.8,164.92 344.3,164.75 344.8,165.00 345.3,165.15 345.8,164.70 346.3,164.87 346.8,164.96 347.3,164.86 347.8,164.96 348.3,164.91 348.8,164.93 349.3,164.80 349.8,164.77 350.3,165.15 350.8,164.80 351.3,164.49 351.8,164.88 352.3,164.70 352.8,164.42 353.3,164.89 353.8,165.03 354.3,165.01 354.8,165.13 355.3,164.82 355.8,164.80 356.3,164.87 356.8,164.97 357.3,164.93 357.8,164.76 358.3,164.71 358.8,164.88 359.3,164.96 359.8,164.60 360.3,164.36 360.8,164.55 361.3,164.54 361.8,164.42 362.3,164.36 362.8,164.36 363.3,164.55 363.8,164.72 364.3,164.65 364.8,164.79 365.3,164.76 365.8,164.91 366.3,165.06 366.8,164.63 367.3,164.39 367.8,163.87 368.3,163.90 368.8,164.33 369.3,164.62 369.8,164.37 370.3,164.34 370.8,164.48 371.3,164.28 371.8,163.91 372.3,163.79 372.8,164.09 373.3,164.14 373.8,164.17 374.3,163.86 374.8,163.95 375.3,164.19 375.8,164.09 376.3,164.09 376.8,164.11 377.3,163.90 377.8,163.47 378.3,163.20 378.8,163.54 379.3,163.78 379.8,163.50 380.3,163.25 380.8,163.15 381.3,163.12 381.8,162.95 382.3,162.72 382.8,162.94 383.3,162.91 383.8,162.29 384.3,161.82 384.8,161.51 385.0,161.68 385.2,161.76 385.3,161.54 385.4,161.36 385.6,161.17 385.8,160.81 385.8,161.05 386.0,161.07 386.2,161.02 386.3,160.72 386.4,160.20 386.6,160.17 386.8,159.84 386.8,159.50 387.0,159.04 387.2,158.87 387.3,158.85 387.4,158.60 387.6,158.21 387.8,157.82 387.8,157.72 388.0,156.95 388.2,156.17 388.3,155.88 388.4,155.66 388.6,154.73 388.8,153.70 388.8,153.64 389.0,152.31 389.2,151.05 389.3,150.75 389.4,150.32 389.6,149.06 389.8,147.50 389.8,147.39 390.0,145.96 390.2,144.25 390.3,143.06 390.4,141.95 390.6,140.13 390.8,138.00 390.8,138.05 391.0,136.29 391.2,134.07 391.3,133.17 391.4,132.18 391.6,129.86 391.8,128.01 391.8,127.93 392.0,126.38 392.2,125.10 392.3,124.72 392.4,124.33 392.6,123.51 392.8,123.17 392.8,122.87 393.0,123.12 393.2,123.87 393.3,124.51 393.4,125.20 393.6,126.70 393.8,128.49 393.8,128.36 394.0,130.15 394.2,132.06 394.3,133.15 394.4,134.30 394.6,136.19 394.8,138.20 394.8,138.70 395.0,140.63 395.2,142.14 395.3,142.98 395.4,143.71 395.6,145.74 395.8,147.59 395.8,147.46 396.0,149.24 396.2,150.96 396.3,151.21 396.4,151.62 396.6,153.01 396.8,153.98 396.8,153.96 397.0,154.86 397.2,155.89 397.3,156.39 397.4,156.58 397.6,157.38 397.8,158.09 397.8,157.97 398.0,158.45 398.2,159.15 398.3,159.40 398.4,159.35 398.6,159.54 398.8,159.86 398.8,159.84 399.0,160.23 399.2,160.71 399.3,160.52 399.4,160.62 399.6,161.26 399.8,161.50 399.8,161.26 400.0,161.62 400.2,161.84 400.3,161.55 400.4,161.57 400.6,161.91 400.8,162.36 400.8,162.54 401.3,162.73 401.8,162.65 402.3,162.75 402.8,162.99 403.3,163.24 403.8,163.26 404.3,163.44 404.8,163.93 405.3,164.00 405.8,164.07 406.3,164.04 406.8,163.84 407.3,163.96 407.8,164.42 408.3,164.74 408.8,164.56 409.3,164.64 409.8,164.71 410.3,164.81 410.8,164.97 411.3,164.72 411.8,164.81 412.3,164.80 412.8,164.58 413.3,164.51 413.8,164.73 414.3,164.97 414.8,164.95 415.3,164.92 415.8,165.18 416.3,165.21 416.8,164.91 417.3,165.19 417.8,165.53 418.3,165.42 418.8,164.97 419.3,164.85 419.8,165.23 420.3,165.34 420.8,165.49 421.3,165.29 421.8,165.16 422.3,165.28 422.8,165.38 423.3,165.47 423.8,165.43 424.3,165.35 424.8,164.99 425.3,164.93 425.8,165.05 426.3,165.07 426.8,165.35 427.3,165.70 427.8,165.57 428.3,165.21 428.8,165.15 429.3,165.20 429.8,165.44 430.3,165.59 430.8,165.44 431.3,165.32 431.8,164.94 432.3,164.87 432.8,165.00 433.3,165.15 433.8,165.32 434.3,165.13 434.8,165.04 435.3,165.38 435.8,165.27 436.3,164.88 436.8,164.98 437.3,164.99 437.8,164.95 438.3,165.12 438.8,165.44 439.3,165.08 439.8,164.82 440.3,165.09 440.8,165.09 441.3,165.06 441.8,165.04 442.3,165.23 442.8,165.23 443.3,165.08 443.8,165.17 444.3,165.23 444.8,165.22 445.3,165.38 445.8,165.42 446.3,165.31 446.8,165.33 447.3,165.17 447.8,165.06 448.3,165.07 448.8,165.23 449.3,165.29 449.8,165.11 450.3,165.26 450.8,165.51 451.3,165.21 451.8,165.39 452.3,165.66 452.8,165.39 453.3,165.55 453.8,165.58 454.3,165.33 454.8,165.65 455.3,165.58 455.8,165.23 456.3,165.52 456.8,165.38 457.3,165.24 457.8,165.45 458.3,165.83 458.8,165.64 459.3,165.27 459.8,165.50 460.3,165.52 460.8,165.24 461.3,165.29 461.8,165.49 462.3,165.50 462.8,165.65 463.3,165.73 463.8,165.63 464.3,165.52 464.8,165.29 465.3,165.23 465.8,165.43 466.3,165.39 466.8,165.37 467.3,165.30 467.8,165.52 468.3,165.97 468.8,165.68 469.3,165.41 469.8,165.44 470.3,165.57 470.8,165.67 471.3,165.49 471.8,165.39 472.3,165.40 472.8,165.28 473.3,165.36 473.8,165.41 474.3,165.38 474.8,165.51 475.3,165.59 475.8,165.57 476.3,165.56 476.8,165.42 477.3,165.36 477.8,165.47 478.3,165.40 478.8,165.45 479.3,165.56 479.8,165.25 480.3,165.15 480.8,165.23 481.3,165.36 481.8,165.29 482.3,164.96 482.8,165.00 483.3,165.40 483.8,165.46 484.3,165.23 484.8,165.34 485.3,165.05 485.8,165.08 486.3,165.45 486.8,165.48 487.3,165.52 487.8,165.49 488.3,165.35 488.8,165.35 489.3,165.40 489.8,165.74 490.3,165.74 490.8,165.49 491.3,165.34 491.8,165.19 492.3,165.51 492.8,165.45 493.3,165.10 493.8,165.25 494.3,165.32 494.8,165.63 495.3,165.34 495.8,165.10 496.3,165.56 496.8,165.34 497.3,165.13 497.8,165.36 498.3,165.71 498.8,165.50 499.3,165.02 499.8,165.30 500.3,165.77 500.8,165.57 501.3,165.01 501.8,165.28 502.3,165.58 502.8,165.53 503.3,165.55 503.8,165.33 504.3,165.27 504.8,165.54 505.3,165.83 505.8,165.28 506.3,164.93 506.8,165.52 507.3,165.60 507.8,165.13 508.3,165.18 508.8,165.37 509.3,165.36 509.8,165.30 510.3,165.27 510.8,165.27" fill="none" stroke="#3a3a3a" stroke-width="1.45" stroke-linejoin="round"/>
<line x1="302.00" y1="176.8" x2="302.00" y2="179.60000000000002" stroke="#333" stroke-width="1.3"/><line x1="344.00" y1="176.8" x2="344.00" y2="179.60000000000002" stroke="#333" stroke-width="1.3"/><line x1="386.00" y1="176.8" x2="386.00" y2="179.60000000000002" stroke="#333" stroke-width="1.3"/><line x1="428.00" y1="176.8" x2="428.00" y2="179.60000000000002" stroke="#333" stroke-width="1.3"/><line x1="470.00" y1="176.8" x2="470.00" y2="179.60000000000002" stroke="#333" stroke-width="1.3"/><line x1="512.00" y1="176.8" x2="512.00" y2="179.60000000000002" stroke="#333" stroke-width="1.3"/>
<line x1="323.00" y1="176.8" x2="323.00" y2="178.60000000000002" stroke="#333" stroke-width="1.3"/><line x1="365.00" y1="176.8" x2="365.00" y2="178.60000000000002" stroke="#333" stroke-width="1.3"/><line x1="407.00" y1="176.8" x2="407.00" y2="178.60000000000002" stroke="#333" stroke-width="1.3"/><line x1="449.00" y1="176.8" x2="449.00" y2="178.60000000000002" stroke="#333" stroke-width="1.3"/><line x1="491.00" y1="176.8" x2="491.00" y2="178.60000000000002" stroke="#333" stroke-width="1.3"/>
<g class="tl"><text x="302.00" y="190.1" text-anchor="middle">2000</text><text x="344.00" y="190.1" text-anchor="middle">1800</text><text x="386.00" y="190.1" text-anchor="middle">1600</text><text x="428.00" y="190.1" text-anchor="middle">1400</text><text x="470.00" y="190.1" text-anchor="middle">1200</text><text x="512.00" y="190.1" text-anchor="middle">1000</text></g>
<rect x="555.3" y="7.5" width="209.80000000000007" height="169.0" fill="none" stroke="#333" stroke-width="1.6"/>
<polyline points="555.8,46.66 556.1,46.73 556.4,46.51 556.7,46.53 557.0,46.60 557.3,46.67 557.6,46.68 557.9,46.78 558.2,46.89 558.5,46.61 558.8,46.34 559.1,46.47 559.4,46.60 559.7,46.44 560.0,46.14 560.3,45.87 560.6,46.13 560.9,46.51 561.2,46.57 561.5,46.26 561.8,46.28 562.1,46.39 562.4,46.28 562.7,46.42 563.0,46.23 563.3,46.07 563.6,45.87 563.9,45.81 564.2,45.84 564.5,46.04 564.8,46.31 565.1,46.37 565.4,46.40 565.7,46.15 566.0,46.11 566.3,46.08 566.6,46.05 566.9,46.06 567.2,45.73 567.5,45.60 567.8,45.66 568.1,45.52 568.4,45.56 568.7,45.77 569.0,45.49 569.3,45.09 569.6,44.72 569.9,44.68 570.2,44.93 570.5,44.72 570.8,45.06 571.1,45.82 571.4,46.01 571.7,46.15 572.0,46.29 572.3,46.59 572.6,46.60 572.9,46.53 573.2,47.13 573.5,47.27 573.8,47.14 574.1,47.20 574.4,47.06 574.7,47.26 575.0,47.81 575.3,48.13 575.6,48.72 575.9,49.72 576.2,50.52 576.5,50.79 576.8,51.19 577.1,51.95 577.4,53.15 577.7,54.58 578.0,55.84 578.3,57.08 578.6,58.35 578.9,60.05 579.2,61.78 579.5,63.17 579.8,64.69 580.1,66.41 580.4,67.92 580.7,69.15 581.0,70.25 581.3,71.80 581.6,73.56 581.9,74.96 582.2,76.28 582.5,77.62 582.8,79.19 583.1,80.69 583.4,81.99 583.7,83.23 584.0,84.48 584.3,86.02 584.6,87.32 584.9,88.47 585.2,89.93 585.5,91.65 585.8,93.05 586.1,94.38 586.4,95.59 586.7,96.56 587.0,97.58 587.3,98.76 587.6,100.39 587.9,101.71 588.2,102.72 588.5,103.75 588.8,104.45 589.1,104.99 589.4,105.60 589.7,106.22 590.0,106.59 590.3,106.61 590.6,106.31 590.9,105.66 591.2,105.04 591.5,104.42 591.8,104.00 592.1,103.19 592.4,102.28 592.7,102.06 593.0,100.92 593.3,99.10 593.6,97.77 593.9,96.73 594.2,95.29 594.5,93.77 594.8,92.40 595.1,90.84 595.4,89.88 595.7,88.54 596.0,86.59 596.3,85.10 596.6,83.83 596.9,82.58 597.2,81.28 597.5,79.98 597.8,78.53 598.1,77.62 598.4,76.93 598.7,76.00 599.0,75.04 599.3,74.21 599.6,73.55 599.9,72.88 600.2,72.09 600.5,71.50 600.8,71.20 601.1,70.55 601.4,69.97 601.7,69.56 602.0,69.33 602.3,68.63 602.6,67.98 602.9,67.66 603.2,67.19 603.5,67.10 603.8,66.59 604.1,66.00 604.4,65.48 604.7,65.25 605.0,65.02 605.3,64.41 605.6,63.58 605.9,62.75 606.2,62.61 606.5,62.26 606.8,61.56 607.1,61.15 607.4,60.50 607.7,60.08 608.0,59.78 608.3,59.25 608.6,58.68 608.9,58.24 609.2,57.81 609.5,57.47 609.8,57.34 610.1,56.93 610.4,56.44 610.7,55.99 611.0,55.11 611.3,54.74 611.6,54.70 611.9,54.19 612.2,53.78 612.5,53.16 612.8,52.72 613.1,52.63 613.4,52.54 613.7,52.01 614.0,51.35 614.3,51.39 614.6,51.13 614.9,50.97 615.2,50.86 615.5,50.16 615.8,50.05 616.1,50.19 616.4,49.57 616.7,49.30 617.0,49.22 617.3,48.96 617.6,48.69 617.9,47.98 618.2,47.87 618.5,48.03 618.8,48.08 619.1,48.05 619.4,47.72 619.7,47.32 620.0,47.03 620.3,46.91 620.6,46.76 620.9,46.66 621.2,46.30 621.5,46.30 621.8,46.68 622.1,47.21 622.4,47.69 622.7,47.75 623.0,48.30 623.3,48.71 623.6,48.89 623.9,48.87 624.2,48.94 624.5,48.86 624.8,47.93 625.1,47.30 625.4,47.19 625.7,46.99 626.0,46.74 626.3,46.46 626.6,46.28 626.9,46.42 627.2,46.74 627.5,46.83 627.8,46.88 628.1,47.50 628.4,47.64 628.7,47.47 629.0,47.34 629.3,47.03 629.6,47.09 629.9,46.99 630.2,46.83 630.5,46.59 630.8,46.37 631.1,46.60 631.4,46.94 631.7,47.06 632.0,47.17 632.3,47.01 632.6,46.70 632.9,46.81 633.2,46.78 633.5,46.62 633.8,46.46 634.1,46.62 634.4,46.62 634.7,46.55 635.0,46.50 635.3,46.59 635.6,46.65 635.9,46.62 636.2,46.53 636.5,46.34 636.8,46.76 637.1,46.71 637.4,46.54 637.7,46.59 638.0,46.24 638.3,46.36 638.6,46.77 638.9,46.56 639.2,46.59 639.5,46.63 639.8,46.40 640.1,46.52 640.4,46.57 640.7,46.92 641.0,46.79 641.3,46.56 641.6,46.94 641.9,46.54 642.2,46.13 642.5,46.51 642.8,46.70 643.1,46.68 643.4,46.92 643.7,46.81 644.0,46.48 644.3,46.13 644.6,46.32 644.9,46.60 645.2,46.61 645.5,46.79 645.8,46.54 646.1,46.76 646.4,47.13 646.7,47.01 647.0,46.67 647.3,46.48 647.6,46.58 647.9,46.58 648.2,46.49 648.5,46.62 648.8,46.83 649.1,46.82 649.4,46.71 649.7,46.85 650.0,46.96 650.3,46.36 650.6,46.23 650.9,46.64 651.2,46.88 651.5,46.85 651.8,46.67 652.1,46.61 652.4,46.75 652.7,46.79 653.0,46.60 653.3,46.56 653.6,46.73 653.9,46.77 654.2,46.43 654.5,46.61 654.8,46.76 655.1,46.72 655.4,46.88 655.7,47.01 656.0,47.11 656.3,46.85 656.6,46.67 656.9,46.56 657.2,46.84 657.5,47.10 657.8,47.06 658.1,46.95 658.4,46.44 658.7,46.74 659.0,47.13 659.3,47.10 659.6,47.45 659.9,48.03 660.2,48.57 660.5,48.44 660.8,48.34 661.1,48.06 661.4,47.35 661.7,47.34 662.0,47.37 662.3,46.99 662.6,46.55 662.9,46.62 663.2,46.98 663.5,46.93 663.8,46.66 664.1,46.55 664.4,46.54 664.7,46.69 665.0,46.99 665.3,47.11 665.6,46.87 665.9,46.75 666.2,46.94 666.5,46.82 666.8,46.71 667.1,47.10 667.4,47.15 667.7,46.95 668.0,46.85 668.3,46.72 668.6,46.52 668.9,46.51 669.2,46.94 669.5,47.25 669.8,47.25 670.1,47.03 670.4,46.85 670.7,46.66 671.0,46.62 671.3,46.80 671.6,46.70 671.9,46.74 672.2,46.70 672.5,46.29 672.8,46.28 673.1,46.29 673.4,46.24 673.7,46.65 674.0,46.82 674.3,46.68 674.6,46.88 674.9,47.03 675.2,46.77 675.5,46.78 675.8,46.91 676.1,46.70 676.4,46.71 676.7,46.49 677.0,46.30 677.3,46.49 677.6,46.69 677.9,46.65 678.2,46.53 678.5,46.73 678.8,46.95 679.1,46.92 679.4,46.89 679.7,46.71 680.0,46.47 680.3,46.57 680.6,46.57 680.9,46.44 681.2,46.73 681.5,46.77 681.8,46.37 682.1,46.47 682.4,46.88 682.7,46.82 683.0,46.72 683.3,46.64 683.6,46.37 683.9,46.33 684.2,46.38 684.5,46.75 684.8,46.59 685.1,46.56 685.4,46.58 685.7,46.29 686.0,46.56 686.3,46.68 686.6,46.60 686.9,46.25 687.2,46.26 687.5,46.34 687.8,46.67 688.1,46.79 688.4,46.42 688.7,46.28 689.0,46.17 689.3,46.15 689.6,46.36 689.9,46.52 690.2,46.46 690.5,46.41 690.8,46.27 691.1,46.58 691.4,46.53 691.7,46.08 692.0,46.31 692.3,46.42 692.6,46.31 692.9,46.64 693.2,46.60 693.5,46.61 693.8,46.65 694.1,46.76 694.4,47.08 694.7,46.80 695.0,46.59 695.3,46.55 695.6,46.63 695.9,46.95 696.2,46.72 696.5,46.70 696.8,46.73 697.1,46.49 697.4,46.43 697.7,46.90 698.0,47.20 698.3,46.97 698.6,46.95 698.9,47.22 699.2,47.19 699.5,47.25 699.8,48.11 700.1,48.93 700.4,48.14 700.7,49.09 701.0,49.28 701.3,49.71 701.6,51.48 701.9,52.53 702.2,53.33 702.5,54.34 702.8,55.79 703.1,57.61 703.4,59.87 703.7,61.91 704.0,62.78 704.3,62.92 704.6,65.10 704.9,68.30 705.2,68.74 705.5,67.96 705.8,67.62 706.1,68.18 706.4,66.94 706.7,64.77 707.0,63.80 707.3,62.91 707.6,61.00 707.9,58.56 708.2,56.57 708.5,55.84 708.8,55.18 709.1,52.95 709.4,50.43 709.7,48.89 710.0,48.86 710.3,48.09 710.6,47.62 710.9,47.64 711.2,46.88 711.5,46.67 711.8,46.54 712.1,45.68 712.4,45.22 712.7,46.81 713.0,46.37 713.3,44.96 713.6,46.11 713.9,46.32 714.2,45.50 714.5,45.14 714.8,46.14 715.1,47.68 715.4,48.50 715.7,48.39 716.0,48.53 716.3,48.27 716.6,48.07 716.9,48.47 717.2,48.69 717.5,49.63 717.8,50.32 718.1,49.72 718.4,50.12 718.7,50.72 719.0,49.92 719.3,50.42 719.6,50.56 719.9,50.99 720.2,52.18 720.5,52.27 720.8,52.36 721.1,52.00 721.4,51.20 721.7,50.00 722.0,49.38 722.3,49.07 722.6,48.31 722.9,48.25 723.2,48.18 723.5,47.02 723.8,45.78 724.1,46.11 724.4,46.83 724.7,46.94 725.0,47.00 725.3,47.38 725.6,47.11 725.9,46.39 726.2,45.57 726.5,45.06 726.8,45.28 727.1,45.84 727.4,46.14 727.7,45.98 728.0,45.80 728.3,46.14 728.6,46.37 728.9,46.25 729.2,46.36 729.5,45.99 729.8,45.37 730.1,45.95 730.4,46.72 730.7,46.40 731.0,46.00 731.3,47.23 731.6,47.00 731.9,45.68 732.2,46.11 732.5,45.56 732.8,45.43 733.1,46.89 733.4,47.34 733.7,46.85 734.0,46.81 734.3,46.69 734.6,47.01 734.9,47.03 735.2,46.48 735.5,46.75 735.8,47.57 736.1,47.83 736.4,47.86 736.7,46.84 737.0,47.25 737.3,49.59 737.6,49.82 737.9,48.65 738.2,47.72 738.5,48.18 738.8,48.27 739.1,48.67 739.4,49.12 739.7,49.53 740.0,50.87 740.3,49.85 740.6,49.83 740.9,51.03 741.2,50.71 741.5,51.28 741.8,52.36 742.1,53.57 742.4,53.11 742.7,53.04 743.0,54.54 743.3,53.93 743.6,52.78 743.9,52.06 744.2,50.77 744.5,50.63 744.8,51.01 745.1,50.73 745.4,51.49 745.7,51.17 746.0,49.81 746.3,49.93 746.6,48.75 746.9,47.11 747.2,47.30 747.5,47.26 747.8,47.51 748.1,47.42 748.4,47.73 748.7,48.50 749.0,47.90 749.3,46.86 749.6,46.71 749.9,47.23 750.2,46.31 750.5,46.00 750.8,46.81 751.1,46.67 751.4,47.03 751.7,47.45 752.0,46.18 752.3,45.57 752.6,45.53 752.9,45.76 753.2,45.77 753.5,45.99 753.8,46.68 754.1,46.76 754.4,46.56 754.7,45.41 755.0,46.42 755.3,47.13 755.6,46.99 755.9,47.36 756.2,47.07 756.5,47.83 756.8,47.72 757.1,47.57 757.4,46.71 757.7,46.50 758.0,47.16 758.3,46.67 758.6,46.79 758.9,47.02 759.2,47.82 759.5,46.70 759.8,45.87 760.1,46.41 760.4,46.95 760.7,47.08 761.0,46.70 761.3,46.69 761.6,46.77 761.9,47.46 762.2,46.90 762.5,46.40 762.8,45.86 763.1,45.97 763.4,47.09 763.7,46.63 764.0,46.74 764.3,45.97 764.6,44.47" fill="none" stroke="#3a66aa" stroke-width="1.35" stroke-linejoin="round"/>
<polyline points="555.8,102.29 556.1,101.17 556.4,101.22 556.7,102.65 557.0,101.77 557.3,100.08 557.6,100.72 557.9,101.02 558.2,100.11 558.5,100.43 558.8,99.96 559.1,100.65 559.4,101.95 559.7,102.25 560.0,101.82 560.3,100.14 560.6,99.72 560.9,101.10 561.2,101.07 561.5,102.48 561.8,102.18 562.1,99.49 562.4,101.08 562.7,102.18 563.0,101.01 563.3,100.48 563.6,100.65 563.9,101.27 564.2,101.60 564.5,100.56 564.8,100.39 565.1,101.52 565.4,101.63 565.7,98.18 566.0,96.75 566.3,98.75 566.6,99.44 566.9,100.19 567.2,101.02 567.5,101.25 567.8,100.72 568.1,100.27 568.4,101.71 568.7,101.30 569.0,99.99 569.3,101.41 569.6,101.64 569.9,99.01 570.2,99.03 570.5,100.02 570.8,99.23 571.1,100.36 571.4,100.94 571.7,100.36 572.0,100.91 572.3,101.30 572.6,100.60 572.9,100.61 573.2,100.66 573.5,100.09 573.8,99.58 574.1,99.48 574.4,99.00 574.7,98.50 575.0,100.30 575.3,100.89 575.6,99.80 575.9,99.85 576.2,100.24 576.5,100.63 576.8,100.70 577.1,100.88 577.4,101.68 577.7,102.62 578.0,103.23 578.3,104.45 578.6,105.67 578.9,106.16 579.2,107.13 579.5,108.47 579.8,109.23 580.1,110.29 580.4,111.18 580.7,111.91 581.0,112.97 581.3,114.02 581.6,115.40 581.9,116.41 582.2,117.15 582.5,118.26 582.8,119.50 583.1,120.64 583.4,121.79 583.7,122.77 584.0,123.50 584.3,124.57 584.6,125.82 584.9,126.80 585.2,127.88 585.5,129.33 585.8,130.25 586.1,131.01 586.4,132.30 586.7,133.13 587.0,133.65 587.3,134.38 587.6,135.32 587.9,136.31 588.2,136.97 588.5,137.65 588.8,138.60 589.1,139.43 589.4,139.68 589.7,140.10 590.0,140.77 590.3,141.22 590.6,141.42 590.9,141.33 591.2,141.23 591.5,140.82 591.8,140.55 592.1,140.34 592.4,140.01 592.7,139.50 593.0,138.83 593.3,138.15 593.6,137.21 593.9,136.51 594.2,135.59 594.5,134.53 594.8,133.42 595.1,132.36 595.4,131.31 595.7,130.28 596.0,129.55 596.3,128.80 596.6,128.00 596.9,126.99 597.2,126.19 597.5,125.36 597.8,124.47 598.1,123.79 598.4,123.05 598.7,122.34 599.0,121.92 599.3,121.44 599.6,121.01 599.9,120.79 600.2,120.42 600.5,119.76 600.8,119.01 601.1,118.67 601.4,118.49 601.7,118.34 602.0,118.00 602.3,117.50 602.6,117.37 602.9,117.02 603.2,116.59 603.5,116.62 603.8,116.57 604.1,116.10 604.4,115.62 604.7,115.08 605.0,114.82 605.3,114.68 605.6,114.33 605.9,113.94 606.2,113.61 606.5,113.36 606.8,113.11 607.1,113.05 607.4,112.75 607.7,111.99 608.0,111.49 608.3,111.20 608.6,110.93 608.9,110.95 609.2,110.83 609.5,110.36 609.8,110.04 610.1,109.71 610.4,109.16 610.7,108.76 611.0,108.53 611.3,108.63 611.6,108.22 611.9,107.86 612.2,107.91 612.5,107.35 612.8,106.79 613.1,106.38 613.4,106.03 613.7,105.87 614.0,105.53 614.3,105.23 614.6,105.06 614.9,104.62 615.2,104.16 615.5,103.79 615.8,103.51 616.1,103.09 616.4,102.85 616.7,102.81 617.0,102.38 617.3,102.43 617.6,102.17 617.9,101.48 618.2,101.42 618.5,101.03 618.8,100.65 619.1,100.54 619.4,100.37 619.7,100.48 620.0,100.60 620.3,100.71 620.6,100.71 620.9,100.65 621.2,100.57 621.5,100.32 621.8,100.54 622.1,100.88 622.4,101.20 622.7,102.24 623.0,103.26 623.3,103.82 623.6,104.37 623.9,104.61 624.2,103.92 624.5,103.00 624.8,102.11 625.1,101.30 625.4,100.76 625.7,100.62 626.0,100.72 626.3,100.60 626.6,101.04 626.9,101.81 627.2,102.80 627.5,103.91 627.8,104.38 628.1,103.89 628.4,103.23 628.7,102.81 629.0,102.10 629.3,101.50 629.6,100.77 629.9,100.41 630.2,100.40 630.5,100.32 630.8,100.48 631.1,100.55 631.4,100.41 631.7,100.33 632.0,100.24 632.3,100.01 632.6,100.26 632.9,100.47 633.2,100.14 633.5,100.03 633.8,100.27 634.1,100.63 634.4,100.79 634.7,100.68 635.0,100.25 635.3,100.12 635.6,100.46 635.9,100.53 636.2,100.53 636.5,100.43 636.8,100.64 637.1,100.89 637.4,100.62 637.7,100.25 638.0,100.57 638.3,100.64 638.6,100.51 638.9,100.88 639.2,100.56 639.5,100.32 639.8,100.41 640.1,100.44 640.4,100.54 640.7,100.76 641.0,100.80 641.3,100.51 641.6,100.59 641.9,100.55 642.2,100.33 642.5,100.71 642.8,100.64 643.1,100.23 643.4,100.36 643.7,100.28 644.0,99.96 644.3,100.27 644.6,100.47 644.9,100.23 645.2,100.30 645.5,100.23 645.8,100.13 646.1,100.30 646.4,100.82 646.7,100.91 647.0,100.66 647.3,100.33 647.6,100.21 647.9,100.26 648.2,100.38 648.5,100.53 648.8,100.42 649.1,100.44 649.4,100.35 649.7,100.13 650.0,100.31 650.3,100.33 650.6,100.07 650.9,100.23 651.2,100.30 651.5,100.39 651.8,100.65 652.1,100.65 652.4,100.52 652.7,100.49 653.0,100.59 653.3,100.31 653.6,100.24 653.9,100.38 654.2,100.14 654.5,100.28 654.8,100.41 655.1,100.50 655.4,100.72 655.7,100.29 656.0,100.11 656.3,100.75 656.6,100.90 656.9,100.82 657.2,100.71 657.5,100.27 657.8,100.09 658.1,100.41 658.4,100.73 658.7,100.51 659.0,100.33 659.3,100.48 659.6,100.26 659.9,100.17 660.2,100.67 660.5,101.06 660.8,100.80 661.1,100.75 661.4,100.68 661.7,100.29 662.0,100.03 662.3,100.30 662.6,100.58 662.9,100.79 663.2,100.89 663.5,100.57 663.8,100.25 664.1,100.45 664.4,100.67 664.7,100.42 665.0,100.14 665.3,100.31 665.6,100.79 665.9,100.56 666.2,100.43 666.5,100.58 666.8,100.71 667.1,100.67 667.4,100.78 667.7,100.73 668.0,100.38 668.3,100.35 668.6,100.06 668.9,100.01 669.2,100.54 669.5,100.71 669.8,100.43 670.1,100.45 670.4,100.27 670.7,100.17 671.0,100.56 671.3,100.71 671.6,100.51 671.9,100.54 672.2,100.94 672.5,100.74 672.8,100.57 673.1,100.41 673.4,100.00 673.7,100.33 674.0,100.63 674.3,100.57 674.6,100.48 674.9,100.40 675.2,100.61 675.5,100.92 675.8,100.76 676.1,100.26 676.4,100.48 676.7,100.82 677.0,100.73 677.3,100.67 677.6,100.92 677.9,100.90 678.2,100.63 678.5,100.35 678.8,100.18 679.1,100.36 679.4,100.44 679.7,100.60 680.0,100.49 680.3,100.70 680.6,100.65 680.9,100.33 681.2,100.52 681.5,100.40 681.8,100.46 682.1,100.74 682.4,100.61 682.7,100.80 683.0,100.86 683.3,100.62 683.6,100.46 683.9,100.17 684.2,100.22 684.5,100.42 684.8,100.45 685.1,100.62 685.4,100.33 685.7,100.04 686.0,100.13 686.3,100.50 686.6,100.69 686.9,100.41 687.2,100.33 687.5,100.55 687.8,100.65 688.1,100.55 688.4,100.31 688.7,100.45 689.0,100.82 689.3,100.72 689.6,100.85 689.9,100.74 690.2,100.54 690.5,100.68 690.8,100.78 691.1,100.65 691.4,100.60 691.7,100.57 692.0,100.68 692.3,100.90 692.6,100.81 692.9,100.96 693.2,100.73 693.5,100.43 693.8,100.92 694.1,100.91 694.4,100.42 694.7,100.70 695.0,101.03 695.3,100.65 695.6,100.70 695.9,100.73 696.2,100.44 696.5,100.60 696.8,100.78 697.1,100.71 697.4,100.80 697.7,100.89 698.0,101.03 698.3,101.25 698.6,101.43 698.9,101.44 699.2,101.21 699.5,101.15 699.8,101.40 700.1,102.34 700.4,103.03 700.7,102.16 701.0,102.56 701.3,102.77 701.6,103.36 701.9,104.32 702.2,104.80 702.5,105.93 702.8,106.12 703.1,106.81 703.4,107.39 703.7,108.27 704.0,110.46 704.3,113.65 704.6,114.43 704.9,113.07 705.2,112.37 705.5,112.47 705.8,111.38 706.1,109.52 706.4,109.60 706.7,108.57 707.0,108.49 707.3,109.13 707.6,107.66 707.9,106.45 708.2,105.70 708.5,104.92 708.8,105.46 709.1,106.18 709.4,105.97 709.7,105.80 710.0,105.50 710.3,105.81 710.6,105.64 710.9,105.73 711.2,107.36 711.5,107.91 711.8,106.48 712.1,104.86 712.4,104.80 712.7,104.79 713.0,102.29 713.3,100.20 713.6,100.34 713.9,100.81 714.2,100.33 714.5,100.39 714.8,101.15 715.1,102.56 715.4,103.46 715.7,102.74 716.0,102.86 716.3,103.90 716.6,104.73 716.9,103.87 717.2,103.77 717.5,103.73 717.8,103.31 718.1,103.38 718.4,103.11 718.7,103.38 719.0,103.45 719.3,103.92 719.6,104.65 719.9,104.09 720.2,102.96 720.5,103.31 720.8,102.68 721.1,101.11 721.4,102.27 721.7,103.31 722.0,103.14 722.3,102.39 722.6,100.96 722.9,100.51 723.2,101.15 723.5,100.79 723.8,99.98 724.1,99.54 724.4,99.21 724.7,100.25 725.0,100.97 725.3,99.88 725.6,99.02 725.9,99.24 726.2,99.97 726.5,99.58 726.8,99.14 727.1,98.60 727.4,98.03 727.7,99.33 728.0,100.45 728.3,99.71 728.6,98.93 728.9,99.97 729.2,100.22 729.5,99.60 729.8,100.13 730.1,100.60 730.4,101.06 730.7,101.62 731.0,101.11 731.3,101.04 731.6,101.72 731.9,101.52 732.2,101.48 732.5,103.09 732.8,103.28 733.1,103.89 733.4,105.58 733.7,105.90 734.0,107.00 734.3,108.32 734.6,109.67 734.9,110.24 735.2,110.51 735.5,111.55 735.8,113.54 736.1,115.04 736.4,114.52 736.7,114.76 737.0,115.75 737.3,116.77 737.6,118.01 737.9,119.87 738.2,119.50 738.5,119.48 738.8,121.23 739.1,120.97 739.4,121.29 739.7,122.00 740.0,122.71 740.3,124.05 740.6,123.81 740.9,124.45 741.2,125.41 741.5,125.72 741.8,126.06 742.1,125.51 742.4,124.84 742.7,123.82 743.0,122.53 743.3,120.51 743.6,119.77 743.9,119.50 744.2,119.20 744.5,116.85 744.8,114.74 745.1,115.31 745.4,113.83 745.7,112.23 746.0,112.96 746.3,112.82 746.6,110.33 746.9,109.32 747.2,109.31 747.5,107.91 747.8,106.43 748.1,105.10 748.4,103.47 748.7,102.24 749.0,102.43 749.3,102.39 749.6,102.78 749.9,102.45 750.2,100.26 750.5,100.21 750.8,101.50 751.1,101.83 751.4,101.75 751.7,101.24 752.0,102.14 752.3,102.47 752.6,102.35 752.9,102.82 753.2,102.12 753.5,103.17 753.8,102.59 754.1,101.37 754.4,102.63 754.7,102.61 755.0,102.47 755.3,102.30 755.6,101.40 755.9,102.23 756.2,102.05 756.5,100.62 756.8,99.95 757.1,99.50 757.4,100.27 757.7,100.90 758.0,100.56 758.3,99.93 758.6,100.27 758.9,99.77 759.2,99.26 759.5,99.98 759.8,99.73 760.1,99.93 760.4,100.02 760.7,99.55 761.0,100.79 761.3,101.58 761.6,101.30 761.9,100.99 762.2,100.91 762.5,101.32 762.8,101.49 763.1,102.33 763.4,101.65 763.7,100.64 764.0,100.77 764.3,98.92 764.6,98.28" fill="none" stroke="#d0505c" stroke-width="1.35" stroke-linejoin="round"/>
<polyline points="555.8,138.78 556.1,138.52 556.4,138.64 556.7,138.58 557.0,138.32 557.3,138.58 557.6,138.24 557.9,138.20 558.2,138.46 558.5,138.31 558.8,138.17 559.1,138.19 559.4,138.17 559.7,137.99 560.0,138.05 560.3,138.00 560.6,138.24 560.9,138.21 561.2,137.90 561.5,138.01 561.8,138.09 562.1,138.21 562.4,138.29 562.7,138.14 563.0,137.97 563.3,137.99 563.6,138.12 563.9,138.19 564.2,138.00 564.5,137.64 564.8,137.96 565.1,138.31 565.4,138.06 565.7,137.97 566.0,137.85 566.3,137.67 566.6,137.67 566.9,137.75 567.2,137.70 567.5,137.52 567.8,137.55 568.1,137.78 568.4,137.74 568.7,137.65 569.0,137.44 569.3,137.39 569.6,137.62 569.9,137.48 570.2,137.27 570.5,137.48 570.8,137.63 571.1,137.69 571.4,137.81 571.7,137.90 572.0,137.99 572.3,137.79 572.6,137.90 572.9,138.12 573.2,138.29 573.5,138.35 573.8,138.29 574.1,138.53 574.4,138.81 574.7,138.88 575.0,138.97 575.3,139.09 575.6,139.28 575.9,139.62 576.2,139.90 576.5,140.14 576.8,140.46 577.1,141.10 577.4,141.44 577.7,141.46 578.0,141.76 578.3,142.14 578.6,142.58 578.9,142.84 579.2,142.99 579.5,143.64 579.8,144.17 580.1,144.67 580.4,145.38 580.7,146.00 581.0,146.69 581.3,147.09 581.6,147.31 581.9,147.62 582.2,148.09 582.5,148.74 582.8,149.08 583.1,149.58 583.4,150.34 583.7,150.91 584.0,151.37 584.3,151.80 584.6,152.25 584.9,152.68 585.2,153.05 585.5,153.62 585.8,154.52 586.1,154.98 586.4,155.25 586.7,155.49 587.0,155.99 587.3,156.37 587.6,156.64 587.9,157.10 588.2,157.23 588.5,157.69 588.8,158.16 589.1,158.40 589.4,158.78 589.7,159.05 590.0,159.20 590.3,159.47 590.6,159.64 590.9,159.75 591.2,159.83 591.5,159.67 591.8,159.60 592.1,159.54 592.4,159.38 592.7,159.32 593.0,158.83 593.3,158.42 593.6,158.07 593.9,157.65 594.2,157.58 594.5,157.14 594.8,156.68 595.1,156.68 595.4,156.63 595.7,156.30 596.0,155.89 596.3,155.87 596.6,155.65 596.9,154.97 597.2,154.90 597.5,154.79 597.8,154.23 598.1,154.00 598.4,153.77 598.7,153.40 599.0,153.12 599.3,152.64 599.6,152.49 599.9,152.41 600.2,151.95 600.5,151.62 600.8,151.66 601.1,151.50 601.4,151.18 601.7,151.10 602.0,150.91 602.3,150.43 602.6,150.29 602.9,150.39 603.2,150.21 603.5,150.09 603.8,149.82 604.1,149.51 604.4,149.45 604.7,149.11 605.0,148.92 605.3,148.97 605.6,148.64 605.9,148.45 606.2,148.25 606.5,147.70 606.8,147.52 607.1,147.46 607.4,147.16 607.7,146.93 608.0,146.84 608.3,146.68 608.6,146.21 608.9,145.99 609.2,145.96 609.5,145.60 609.8,145.25 610.1,145.08 610.4,144.85 610.7,144.72 611.0,144.71 611.3,144.66 611.6,144.41 611.9,143.99 612.2,143.65 612.5,143.34 612.8,142.80 613.1,142.37 613.4,142.11 613.7,141.66 614.0,141.21 614.3,140.82 614.6,140.51 614.9,140.11 615.2,139.95 615.5,139.89 615.8,139.67 616.1,139.56 616.4,139.48 616.7,139.22 617.0,138.96 617.3,138.69 617.6,138.27 617.9,138.09 618.2,138.42 618.5,138.33 618.8,138.15 619.1,138.56 619.4,138.48 619.7,138.55 620.0,138.89 620.3,138.87 620.6,139.00 620.9,139.03 621.2,138.74 621.5,138.90 621.8,139.23 622.1,139.42 622.4,139.82 622.7,140.79 623.0,141.36 623.3,141.38 623.6,141.41 623.9,141.20 624.2,140.82 624.5,140.24 624.8,139.59 625.1,139.00 625.4,138.70 625.7,138.66 626.0,138.84 626.3,138.80 626.6,138.64 626.9,138.45 627.2,138.09 627.5,137.75 627.8,137.65 628.1,137.46 628.4,137.37 628.7,137.83 629.0,137.92 629.3,137.88 629.6,137.81 629.9,137.53 630.2,137.54 630.5,137.69 630.8,137.93 631.1,138.25 631.4,138.04 631.7,137.77 632.0,137.87 632.3,137.90 632.6,137.79 632.9,137.87 633.2,138.10 633.5,138.17 633.8,138.00 634.1,137.96 634.4,137.92 634.7,138.07 635.0,138.18 635.3,138.04 635.6,138.12 635.9,138.08 636.2,138.01 636.5,137.86 636.8,138.22 637.1,138.47 637.4,138.29 637.7,138.52 638.0,138.48 638.3,138.29 638.6,138.31 638.9,138.39 639.2,138.45 639.5,138.34 639.8,138.25 640.1,138.25 640.4,138.43 640.7,138.14 641.0,137.98 641.3,138.19 641.6,138.17 641.9,137.97 642.2,138.10 642.5,138.25 642.8,138.13 643.1,138.18 643.4,138.00 643.7,138.01 644.0,137.99 644.3,137.93 644.6,138.12 644.9,138.24 645.2,138.29 645.5,138.27 645.8,138.54 646.1,138.61 646.4,138.19 646.7,138.06 647.0,138.14 647.3,138.19 647.6,138.20 647.9,138.12 648.2,138.40 648.5,138.52 648.8,138.27 649.1,138.24 649.4,138.25 649.7,138.46 650.0,138.55 650.3,138.52 650.6,138.07 650.9,137.98 651.2,138.50 651.5,138.71 651.8,138.58 652.1,138.12 652.4,138.19 652.7,138.34 653.0,138.04 653.3,138.04 653.6,138.40 653.9,138.63 654.2,138.59 654.5,138.31 654.8,138.54 655.1,138.52 655.4,138.20 655.7,138.17 656.0,138.35 656.3,138.58 656.6,138.53 656.9,138.49 657.2,138.37 657.5,138.39 657.8,138.16 658.1,138.27 658.4,138.62 658.7,138.45 659.0,138.33 659.3,138.42 659.6,138.62 659.9,138.64 660.2,138.45 660.5,138.34 660.8,138.15 661.1,138.14 661.4,138.34 661.7,138.38 662.0,138.39 662.3,138.51 662.6,138.56 662.9,138.50 663.2,138.53 663.5,138.52 663.8,138.44 664.1,138.48 664.4,138.27 664.7,138.37 665.0,138.43 665.3,138.38 665.6,138.54 665.9,138.58 666.2,138.58 666.5,138.33 666.8,138.46 667.1,138.60 667.4,138.49 667.7,138.48 668.0,138.59 668.3,138.68 668.6,138.59 668.9,138.29 669.2,138.22 669.5,138.43 669.8,138.70 670.1,138.74 670.4,138.51 670.7,138.61 671.0,138.61 671.3,138.46 671.6,138.50 671.9,138.31 672.2,138.42 672.5,138.66 672.8,138.51 673.1,138.31 673.4,138.38 673.7,138.70 674.0,138.59 674.3,138.29 674.6,138.42 674.9,138.36 675.2,138.03 675.5,138.18 675.8,138.37 676.1,138.39 676.4,138.41 676.7,138.49 677.0,138.53 677.3,138.42 677.6,138.39 677.9,138.55 678.2,138.73 678.5,138.76 678.8,138.73 679.1,138.21 679.4,138.00 679.7,138.38 680.0,138.53 680.3,138.37 680.6,138.52 680.9,138.76 681.2,138.51 681.5,138.50 681.8,138.53 682.1,138.42 682.4,138.53 682.7,138.57 683.0,138.33 683.3,138.31 683.6,138.47 683.9,138.42 684.2,138.60 684.5,138.60 684.8,138.66 685.1,138.91 685.4,138.58 685.7,138.48 686.0,138.75 686.3,138.71 686.6,138.42 686.9,138.46 687.2,138.86 687.5,138.66 687.8,138.48 688.1,138.67 688.4,138.59 688.7,138.54 689.0,138.52 689.3,138.70 689.6,138.82 689.9,138.56 690.2,138.69 690.5,138.65 690.8,138.54 691.1,138.72 691.4,138.79 691.7,138.81 692.0,138.79 692.3,138.75 692.6,138.74 692.9,138.78 693.2,138.93 693.5,138.82 693.8,138.74 694.1,138.95 694.4,138.93 694.7,138.92 695.0,139.08 695.3,139.09 695.6,139.00 695.9,139.40 696.2,139.50 696.5,139.72 696.8,140.01 697.1,139.99 697.4,140.17 697.7,140.32 698.0,140.40 698.3,140.43 698.6,140.58 698.9,140.89 699.2,141.18 699.5,141.35 699.8,141.41 700.1,141.50 700.4,140.77 700.7,141.34 701.0,142.66 701.3,142.38 701.6,142.56 701.9,143.52 702.2,143.42 702.5,143.60 702.8,144.09 703.1,143.32 703.4,143.54 703.7,144.75 704.0,145.82 704.3,146.23 704.6,146.39 704.9,146.86 705.2,147.36 705.5,147.83 705.8,147.96 706.1,147.71 706.4,146.67 706.7,145.71 707.0,145.00 707.3,144.33 707.6,144.48 707.9,142.95 708.2,141.91 708.5,142.95 708.8,143.33 709.1,142.49 709.4,141.93 709.7,142.60 710.0,142.04 710.3,140.58 710.6,140.36 710.9,140.37 711.2,140.42 711.5,140.08 711.8,140.05 712.1,139.93 712.4,138.19 712.7,137.36 713.0,136.79 713.3,136.94 713.6,138.12 713.9,138.11 714.2,138.28 714.5,138.45 714.8,138.67 715.1,140.64 715.4,140.36 715.7,140.32 716.0,141.88 716.3,140.83 716.6,139.97 716.9,140.68 717.2,142.07 717.5,142.61 717.8,142.40 718.1,143.22 718.4,143.66 718.7,143.80 719.0,144.07 719.3,145.11 719.6,145.72 719.9,146.90 720.2,148.05 720.5,147.75 720.8,148.61 721.1,148.96 721.4,146.89 721.7,145.43 722.0,144.15 722.3,142.18 722.6,141.90 722.9,141.01 723.2,140.29 723.5,140.19 723.8,140.68 724.1,140.62 724.4,139.04 724.7,138.41 725.0,138.39 725.3,138.84 725.6,139.17 725.9,139.50 726.2,139.53 726.5,139.12 726.8,139.15 727.1,138.99 727.4,138.94 727.7,139.31 728.0,139.49 728.3,138.86 728.6,137.69 728.9,137.56 729.2,138.50 729.5,137.78 729.8,137.49 730.1,138.87 730.4,138.89 730.7,138.25 731.0,139.35 731.3,140.54 731.6,139.70 731.9,139.73 732.2,140.50 732.5,139.50 732.8,140.27 733.1,140.59 733.4,139.57 733.7,139.84 734.0,140.36 734.3,140.63 734.6,140.97 734.9,142.42 735.2,142.88 735.5,142.63 735.8,143.56 736.1,143.58 736.4,143.59 736.7,144.12 737.0,144.04 737.3,144.45 737.6,144.67 737.9,144.89 738.2,144.73 738.5,144.75 738.8,145.54 739.1,145.97 739.4,145.46 739.7,145.41 740.0,145.83 740.3,146.34 740.6,146.94 740.9,147.21 741.2,147.05 741.5,147.21 741.8,147.04 742.1,145.79 742.4,146.34 742.7,146.77 743.0,146.19 743.3,146.21 743.6,146.72 743.9,146.53 744.2,146.18 744.5,146.30 744.8,145.39 745.1,144.62 745.4,145.04 745.7,145.53 746.0,145.25 746.3,145.47 746.6,144.81 746.9,143.68 747.2,143.07 747.5,142.56 747.8,142.02 748.1,141.16 748.4,141.82 748.7,141.02 749.0,139.91 749.3,140.63 749.6,140.28 749.9,139.35 750.2,138.89 750.5,138.82 750.8,138.14 751.1,138.08 751.4,138.20 751.7,137.89 752.0,138.37 752.3,138.16 752.6,138.09 752.9,138.33 753.2,138.37 753.5,138.71 753.8,138.66 754.1,138.20 754.4,137.74 754.7,137.76 755.0,138.13 755.3,138.78 755.6,139.12 755.9,138.49 756.2,137.97 756.5,137.40 756.8,136.29 757.1,136.56 757.4,137.19 757.7,136.81 758.0,136.24 758.3,137.10 758.6,137.47 758.9,136.40 759.2,137.72 759.5,138.48 759.8,137.21 760.1,137.36 760.4,137.09 760.7,137.42 761.0,136.99 761.3,135.62 761.6,136.18 761.9,136.39 762.2,137.09 762.5,136.77 762.8,135.90 763.1,136.83 763.4,137.52 763.7,137.97 764.0,137.98 764.3,138.61 764.6,138.31" fill="none" stroke="#3a3a3a" stroke-width="1.35" stroke-linejoin="round"/>
<line x1="555.30" y1="176.5" x2="555.30" y2="179.4" stroke="#333" stroke-width="1.3"/><line x1="587.00" y1="176.5" x2="587.00" y2="179.4" stroke="#333" stroke-width="1.3"/><line x1="618.70" y1="176.5" x2="618.70" y2="179.4" stroke="#333" stroke-width="1.3"/><line x1="650.40" y1="176.5" x2="650.40" y2="179.4" stroke="#333" stroke-width="1.3"/><line x1="682.10" y1="176.5" x2="682.10" y2="179.4" stroke="#333" stroke-width="1.3"/><line x1="713.80" y1="176.5" x2="713.80" y2="179.4" stroke="#333" stroke-width="1.3"/><line x1="745.50" y1="176.5" x2="745.50" y2="179.4" stroke="#333" stroke-width="1.3"/>
<line x1="571.15" y1="176.5" x2="571.15" y2="178.3" stroke="#333" stroke-width="1.3"/><line x1="602.85" y1="176.5" x2="602.85" y2="178.3" stroke="#333" stroke-width="1.3"/><line x1="634.55" y1="176.5" x2="634.55" y2="178.3" stroke="#333" stroke-width="1.3"/><line x1="666.25" y1="176.5" x2="666.25" y2="178.3" stroke="#333" stroke-width="1.3"/><line x1="697.95" y1="176.5" x2="697.95" y2="178.3" stroke="#333" stroke-width="1.3"/><line x1="729.65" y1="176.5" x2="729.65" y2="178.3" stroke="#333" stroke-width="1.3"/><line x1="761.35" y1="176.5" x2="761.35" y2="178.3" stroke="#333" stroke-width="1.3"/>
<g class="tl"><text x="555.30" y="190.6" text-anchor="middle">4000</text><text x="587.00" y="190.6" text-anchor="middle">3500</text><text x="618.70" y="190.6" text-anchor="middle">3000</text><text x="650.40" y="190.6" text-anchor="middle">2500</text><text x="682.10" y="190.6" text-anchor="middle">2000</text><text x="713.80" y="190.6" text-anchor="middle">1500</text><text x="745.50" y="190.6" text-anchor="middle">1000</text></g>
<line x1="590" y1="43" x2="590" y2="168" stroke="#666" stroke-width="1.2" stroke-dasharray="1.2 3.8"/>
<line x1="623.5" y1="40" x2="623.5" y2="143" stroke="#666" stroke-width="1.2" stroke-dasharray="1.2 3.8"/>
<line x1="628.2" y1="40" x2="628.2" y2="154" stroke="#666" stroke-width="1.2" stroke-dasharray="1.2 3.8"/>
<line x1="705.6" y1="47" x2="705.6" y2="155" stroke="#666" stroke-width="1.2" stroke-dasharray="1.2 3.8"/>
<line x1="716.3" y1="26" x2="716.3" y2="147" stroke="#666" stroke-width="1.2" stroke-dasharray="1.2 3.8"/>
<line x1="720.7" y1="27" x2="720.7" y2="156" stroke="#666" stroke-width="1.2" stroke-dasharray="1.2 3.8"/>
<line x1="741.8" y1="40" x2="741.8" y2="154" stroke="#666" stroke-width="1.2" stroke-dasharray="1.2 3.8"/>
<text class="pl" font-size="17.8"><tspan x="35.6" y="29.7">(</tspan><tspan x="42.2" y="30.6" font-size="18.5">a</tspan><tspan x="52.6" y="29.7">)</tspan></text>
<text class="pl" font-size="17.8"><tspan x="306.8" y="28.2">(</tspan><tspan x="313.8" y="29.7" font-size="18.5">b</tspan><tspan x="324.4" y="28.2">)</tspan></text>
<text class="pl" font-size="17.8"><tspan x="558.8" y="28.2">(</tspan><tspan x="565.5" y="29.7" font-size="18.5">c</tspan><tspan x="574.4" y="28.2">)</tspan></text>
<g class="lab" font-size="11.5">
<text x="54.8" y="71.4">K</text><text x="55.2" y="139.9">B</text><text x="54.8" y="170.9">S</text>
<text x="317.6" y="62.5" font-size="11">K</text><text x="318.6" y="110.6" font-size="11">B</text><text x="319.4" y="161.7" font-size="11">S</text>
<text x="649.6" y="60.4" font-size="11">K</text><text x="648.2" y="114.2" font-size="11">B</text><text x="653.4" y="150.6" font-size="11">S</text>
</g>
<g class="lab" font-size="14">
<text x="146.5" y="208.5" text-anchor="middle" word-spacing="2" font-size="15">2 Theta (°)</text>
<text x="407.2" y="206.6" text-anchor="middle" font-size="14.6">Wave number (cm<tspan font-size="8" dy="-5">-1</tspan><tspan dy="5">)</tspan></text>
<text x="661.7" y="210.4" text-anchor="middle" font-size="14.6">Wave number (cm<tspan font-size="8" dy="-5">-1</tspan><tspan dy="5">)</tspan></text>
</g>
<g class="lab" font-size="14.4">
<text transform="translate(19,93) rotate(-90)" text-anchor="middle">Intensity (a.u.)</text>
<text transform="translate(291.5,92.5) rotate(-90)" text-anchor="middle">Intensity (a.u.)</text>
<text transform="translate(545,97.5) rotate(-90)" text-anchor="middle">Intensity (a.u.)</text>
</g>
<g class="lab" font-size="10.8" letter-spacing="0.2">
<text x="456" y="68.8">I<tspan font-size="8" dy="3.2">D</tspan><tspan dy="-3.2">/I</tspan><tspan font-size="8" dy="3.2">G</tspan><tspan dy="-3.2">=0.16</tspan></text>
<text x="456" y="119.2">I<tspan font-size="8" dy="3.2">D</tspan><tspan dy="-3.2">/I</tspan><tspan font-size="8" dy="3.2">G</tspan><tspan dy="-3.2">=0.13</tspan></text>
<text x="456" y="158.7">I<tspan font-size="8" dy="3.2">D</tspan><tspan dy="-3.2">/I</tspan><tspan font-size="8" dy="3.2">G</tspan><tspan dy="-3.2">=0.06</tspan></text>
</g>
<g class="lab" font-size="9.5" text-anchor="middle">
<text x="587" y="40.5">-OH</text>
<text x="626.5" y="36.5">-CH<tspan font-size="6.5" dy="2">2</tspan><tspan dy="-2">-</tspan></text>
<text x="699.4" y="42.3" font-size="10">C=C</text>
<text x="717.7" y="26">-CH<tspan font-size="6.5" dy="2">3</tspan></text>
<text x="749.4" y="36.3" font-size="10">C-O-C</text>
</g>
</svg>
<div class="rule" style="top:224px"></div>
<div class="rule" style="top:278px"></div>
<div class="tb th" style="left:28.4px;top:245.2px;letter-spacing:0.25px">Sample</div>
<div class="tb th" style="left:147px;top:245.2px">2<i>θ</i><sub><span class="pp">(</span>002<span class="pp">)</span></sub><b>,</b> °</div>
<div class="tb th" style="left:274px;top:245.2px;letter-spacing:0.25px"><i>d</i><sub><span class="pp">(</span>002<span class="pp">)</span></sub><b>,</b> nm</div>
<div class="tb th" style="left:414.7px;top:245.2px"><i>L</i><sub>c<span class="pp">(</span>002<span class="pp">)</span></sub><b>,</b> nm</div>
<div class="tb th" style="left:562.4px;top:245.2px"><i>N</i></div>
<div class="tb th" style="left:658.6px;top:245.2px;letter-spacing:0.35px"><i>L</i><sub>a<span class="pp">(</span>100<span class="pp">)</span></sub><b>,</b> nm</div>
<div class="tb" style="left:27.8px;top:303.6px">S</div>
<div class="tb" style="left:147.2px;top:303.6px">26.46</div>
<div class="tb" style="left:274px;top:303.6px">0.3368</div>
<div class="tb" style="left:414.7px;top:303.6px">24.31</div>
<div class="tb" style="left:563px;top:303.6px">73.16</div>
<div class="tb" style="left:659px;top:303.6px">58.88</div>
<div class="tb" style="left:27.8px;top:333.6px">B</div>
<div class="tb" style="left:147.2px;top:333.6px">26.44</div>
<div class="tb" style="left:274px;top:333.6px">0.3371</div>
<div class="tb" style="left:414.7px;top:333.6px">27.87</div>
<div class="tb" style="left:563px;top:333.6px">83.69</div>
<div class="tb" style="left:659px;top:333.6px">54.12</div>
<div class="tb" style="left:27.8px;top:363.6px">K</div>
<div class="tb" style="left:147.2px;top:363.6px">26.47</div>
<div class="tb" style="left:274px;top:363.6px">0.3367</div>
<div class="tb" style="left:414.7px;top:363.6px">28.66</div>
<div class="tb" style="left:563px;top:363.6px">86.12</div>
<div class="tb" style="left:659px;top:363.6px">53.46</div>
<div style="position:absolute;left:30px;top:405.5px;width:738px;height:4px;background:#dcdad4;border-radius:1.5px"></div>
</body></html>
